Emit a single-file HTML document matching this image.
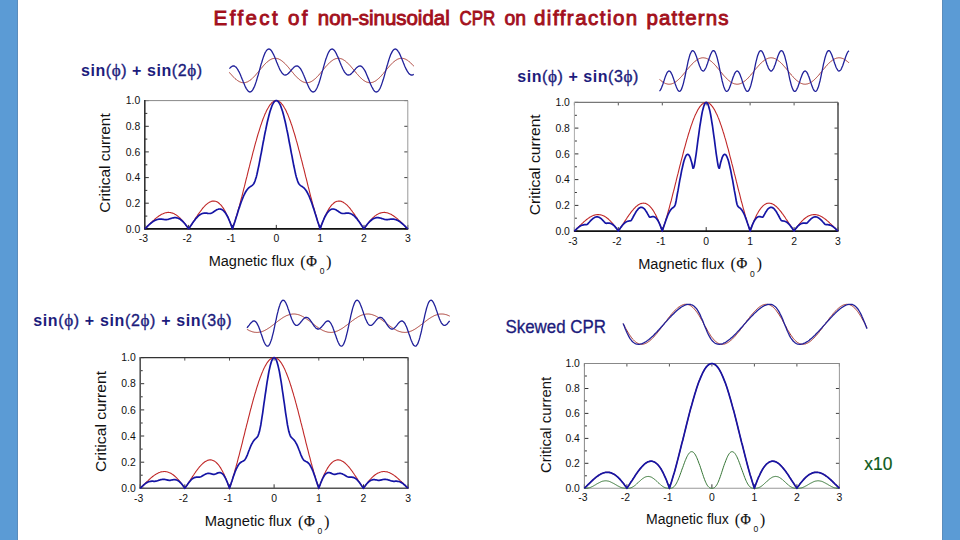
<!DOCTYPE html>
<html><head><meta charset="utf-8">
<style>
html,body{margin:0;padding:0;background:#fff;}
body{width:960px;height:540px;position:relative;overflow:hidden;}
svg{position:absolute;left:0;top:0;}
.tk{font-family:"Liberation Sans",sans-serif;font-size:10.4px;fill:#111;}
.al{font-family:"Liberation Sans",sans-serif;font-size:14.5px;fill:#111;}
.xl{font-family:"Liberation Sans",sans-serif;font-size:15.5px;fill:#111;}
.sy{font-family:"Liberation Serif",serif;font-size:16.5px;fill:#111;}
.sub{font-family:"Liberation Sans",sans-serif;font-size:8.5px;fill:#111;}
.lab{font-family:"Liberation Sans",sans-serif;font-weight:bold;font-size:16px;fill:#1c1c7c;}
.ph{font-weight:normal;stroke:#1c1c7c;stroke-width:0.35px;}
.pp{font-family:"Liberation Serif",serif;font-weight:normal;font-size:17px;stroke:#1c1c7c;stroke-width:0.4px;}
.phi{stroke:#111;stroke-width:0.25px;font-size:15.5px;}
.title{font-family:"Liberation Sans",sans-serif;font-weight:normal;font-size:20.5px;fill:#a3101c;stroke:#a3101c;stroke-width:0.9px;}
</style></head><body>
<svg width="960" height="540" viewBox="0 0 960 540">
<rect x="0" y="0" width="18" height="540" fill="#5b9bd5"/><rect x="17" y="0" width="1" height="540" fill="#5a8cbc"/>
<rect x="942" y="0" width="18" height="540" fill="#5b9bd5"/><rect x="942" y="0" width="1" height="540" fill="#5a8cbc"/>
<text x="213.6" y="24.5" class="title" textLength="64.1" lengthAdjust="spacing">Effect</text>
<text x="288.0" y="24.5" class="title" textLength="19.5" lengthAdjust="spacing">of</text>
<text x="317.8" y="24.5" class="title" textLength="131.9" lengthAdjust="spacingAndGlyphs">non-sinusoidal</text>
<text x="459.5" y="24.5" class="title" textLength="35.7" lengthAdjust="spacingAndGlyphs">CPR</text>
<text x="504.5" y="24.5" class="title" textLength="21.5" lengthAdjust="spacingAndGlyphs">on</text>
<text x="534.0" y="24.5" class="title" textLength="103.2" lengthAdjust="spacing">diffraction</text>
<text x="646.5" y="24.5" class="title" textLength="82.1" lengthAdjust="spacing">patterns</text>
<text x="81.0" y="76.1" class="lab" textLength="121.0" lengthAdjust="spacing">sin<tspan class="ph">(</tspan><tspan class="pp">ϕ</tspan><tspan class="ph">)</tspan> + sin<tspan class="ph">(2</tspan><tspan class="pp">ϕ</tspan><tspan class="ph">)</tspan></text>
<text x="517.3" y="81.6" class="lab" textLength="121.0" lengthAdjust="spacing">sin<tspan class="ph">(</tspan><tspan class="pp">ϕ</tspan><tspan class="ph">)</tspan> + sin<tspan class="ph">(3</tspan><tspan class="pp">ϕ</tspan><tspan class="ph">)</tspan></text>
<text x="33.2" y="326.4" class="lab" textLength="198.5" lengthAdjust="spacing">sin<tspan class="ph">(</tspan><tspan class="pp">ϕ</tspan><tspan class="ph">)</tspan> + sin<tspan class="ph">(2</tspan><tspan class="pp">ϕ</tspan><tspan class="ph">)</tspan> + sin<tspan class="ph">(3</tspan><tspan class="pp">ϕ</tspan><tspan class="ph">)</tspan></text>
<text x="505.5" y="333.3" style="font-family:'Liberation Sans',sans-serif;font-size:17.5px;fill:#1c1c7c;stroke:#1c1c7c;stroke-width:0.3px" textLength="100.5" lengthAdjust="spacingAndGlyphs">Skewed CPR</text>
<text x="864.3" y="469.6" style="font-family:'Liberation Sans',sans-serif;font-size:18.5px;fill:#0d5a1a;stroke:#0d5a1a;stroke-width:0.2px" textLength="28" lengthAdjust="spacingAndGlyphs">x10</text>
<line x1="144.8" y1="228.9" x2="148.8" y2="228.9" stroke="#333" stroke-width="1"/>
<line x1="407.8" y1="228.9" x2="404.3" y2="228.9" stroke="#444" stroke-width="1"/>
<line x1="144.8" y1="216.1" x2="147.3" y2="216.1" stroke="#333" stroke-width="1"/>
<line x1="144.8" y1="203.2" x2="148.8" y2="203.2" stroke="#333" stroke-width="1"/>
<line x1="407.8" y1="203.2" x2="404.3" y2="203.2" stroke="#444" stroke-width="1"/>
<line x1="144.8" y1="190.4" x2="147.3" y2="190.4" stroke="#333" stroke-width="1"/>
<line x1="144.8" y1="177.6" x2="148.8" y2="177.6" stroke="#333" stroke-width="1"/>
<line x1="407.8" y1="177.6" x2="404.3" y2="177.6" stroke="#444" stroke-width="1"/>
<line x1="144.8" y1="164.8" x2="147.3" y2="164.8" stroke="#333" stroke-width="1"/>
<line x1="144.8" y1="151.9" x2="148.8" y2="151.9" stroke="#333" stroke-width="1"/>
<line x1="407.8" y1="151.9" x2="404.3" y2="151.9" stroke="#444" stroke-width="1"/>
<line x1="144.8" y1="139.1" x2="147.3" y2="139.1" stroke="#333" stroke-width="1"/>
<line x1="144.8" y1="126.3" x2="148.8" y2="126.3" stroke="#333" stroke-width="1"/>
<line x1="407.8" y1="126.3" x2="404.3" y2="126.3" stroke="#444" stroke-width="1"/>
<line x1="144.8" y1="113.4" x2="147.3" y2="113.4" stroke="#333" stroke-width="1"/>
<line x1="144.8" y1="100.6" x2="148.8" y2="100.6" stroke="#333" stroke-width="1"/>
<line x1="407.8" y1="100.6" x2="404.3" y2="100.6" stroke="#444" stroke-width="1"/>
<line x1="144.8" y1="228.9" x2="144.8" y2="224.9" stroke="#333" stroke-width="1"/>
<line x1="188.6" y1="228.9" x2="188.6" y2="224.9" stroke="#333" stroke-width="1"/>
<line x1="232.5" y1="228.9" x2="232.5" y2="224.9" stroke="#333" stroke-width="1"/>
<line x1="276.3" y1="228.9" x2="276.3" y2="224.9" stroke="#333" stroke-width="1"/>
<line x1="320.1" y1="228.9" x2="320.1" y2="224.9" stroke="#333" stroke-width="1"/>
<line x1="364.0" y1="228.9" x2="364.0" y2="224.9" stroke="#333" stroke-width="1"/>
<line x1="407.8" y1="228.9" x2="407.8" y2="224.9" stroke="#333" stroke-width="1"/>
<line x1="144.8" y1="100.6" x2="407.8" y2="100.6" stroke="#888" stroke-width="1"/>
<line x1="407.8" y1="100.6" x2="407.8" y2="228.9" stroke="#999" stroke-width="1"/>
<line x1="144.8" y1="100.1" x2="144.8" y2="229.4" stroke="#333" stroke-width="1.6"/>
<line x1="144.3" y1="228.9" x2="408.3" y2="228.9" stroke="#111" stroke-width="1.6"/>
<text x="140.3" y="232.5" text-anchor="end" class="tk">0.0</text>
<text x="140.3" y="206.8" text-anchor="end" class="tk">0.2</text>
<text x="140.3" y="181.2" text-anchor="end" class="tk">0.4</text>
<text x="140.3" y="155.5" text-anchor="end" class="tk">0.6</text>
<text x="140.3" y="129.9" text-anchor="end" class="tk">0.8</text>
<text x="140.3" y="104.2" text-anchor="end" class="tk">1.0</text>
<text x="143.3" y="241.9" text-anchor="middle" class="tk">-3</text>
<text x="187.1" y="241.9" text-anchor="middle" class="tk">-2</text>
<text x="231.0" y="241.9" text-anchor="middle" class="tk">-1</text>
<text x="276.3" y="241.9" text-anchor="middle" class="tk">0</text>
<text x="320.1" y="241.9" text-anchor="middle" class="tk">1</text>
<text x="364.0" y="241.9" text-anchor="middle" class="tk">2</text>
<text x="407.8" y="241.9" text-anchor="middle" class="tk">3</text>
<path d="M144.8 228.9L145.4 228.3L146.1 227.7L146.7 227.0L147.3 226.4L147.9 225.8L148.6 225.2L149.2 224.5L149.8 223.9L150.4 223.3L151.1 222.7L151.7 222.1L152.3 221.5L152.9 220.9L153.6 220.3L154.2 219.8L154.8 219.2L155.4 218.7L156.1 218.1L156.7 217.6L157.3 217.1L157.9 216.7L158.6 216.2L159.2 215.8L159.8 215.4L160.5 215.0L161.1 214.6L161.7 214.3L162.3 214.0L163.0 213.7L163.6 213.4L164.2 213.2L164.8 213.0L165.5 212.8L166.1 212.7L166.7 212.6L167.3 212.5L168.0 212.4L168.6 212.4L169.2 212.5L169.8 212.5L170.5 212.6L171.1 212.7L171.7 212.9L172.4 213.1L173.0 213.3L173.6 213.6L174.2 213.8L174.9 214.2L175.5 214.5L176.1 214.9L176.7 215.4L177.4 215.8L178.0 216.3L178.6 216.8L179.2 217.4L179.9 218.0L180.5 218.6L181.1 219.3L181.7 219.9L182.4 220.6L183.0 221.4L183.6 222.1L184.2 222.9L184.9 223.7L185.5 224.5L186.1 225.4L186.8 226.2L187.4 227.1L188.0 228.0L188.6 228.9L189.3 228.0L189.9 227.0L190.5 226.1L191.1 225.1L191.8 224.2L192.4 223.2L193.0 222.3L193.6 221.3L194.3 220.3L194.9 219.4L195.5 218.4L196.1 217.4L196.8 216.5L197.4 215.6L198.0 214.6L198.7 213.7L199.3 212.8L199.9 212.0L200.5 211.1L201.2 210.3L201.8 209.5L202.4 208.7L203.0 207.9L203.7 207.2L204.3 206.5L204.9 205.8L205.5 205.2L206.2 204.6L206.8 204.1L207.4 203.6L208.0 203.1L208.7 202.7L209.3 202.3L209.9 202.0L210.6 201.7L211.2 201.4L211.8 201.3L212.4 201.1L213.1 201.1L213.7 201.0L214.3 201.1L214.9 201.2L215.6 201.3L216.2 201.5L216.8 201.8L217.4 202.1L218.1 202.5L218.7 203.0L219.3 203.5L219.9 204.1L220.6 204.7L221.2 205.4L221.8 206.2L222.4 207.0L223.1 207.9L223.7 208.9L224.3 209.9L225.0 211.0L225.6 212.2L226.2 213.4L226.8 214.7L227.5 216.0L228.1 217.4L228.7 218.9L229.3 220.4L230.0 222.0L230.6 223.6L231.2 225.3L231.8 227.1L232.5 228.9L233.1 227.0L233.7 225.1L234.3 223.2L235.0 221.2L235.6 219.1L236.2 217.0L236.9 214.9L237.5 212.7L238.1 210.5L238.7 208.2L239.4 205.9L240.0 203.6L240.6 201.3L241.2 198.9L241.9 196.5L242.5 194.1L243.1 191.6L243.7 189.2L244.4 186.7L245.0 184.2L245.6 181.7L246.2 179.2L246.9 176.7L247.5 174.2L248.1 171.7L248.7 169.2L249.4 166.7L250.0 164.2L250.6 161.7L251.3 159.2L251.9 156.8L252.5 154.4L253.1 151.9L253.8 149.6L254.4 147.2L255.0 144.9L255.6 142.6L256.3 140.4L256.9 138.2L257.5 136.0L258.1 133.9L258.8 131.8L259.4 129.8L260.0 127.8L260.6 125.9L261.3 124.0L261.9 122.2L262.5 120.5L263.1 118.8L263.8 117.1L264.4 115.6L265.0 114.1L265.7 112.7L266.3 111.3L266.9 110.1L267.5 108.9L268.2 107.8L268.8 106.7L269.4 105.7L270.0 104.9L270.7 104.1L271.3 103.3L271.9 102.7L272.5 102.1L273.2 101.7L273.8 101.3L274.4 101.0L275.0 100.8L275.7 100.6L276.3 100.6L276.9 100.6L277.6 100.8L278.2 101.0L278.8 101.3L279.4 101.7L280.1 102.1L280.7 102.7L281.3 103.3L281.9 104.1L282.6 104.9L283.2 105.7L283.8 106.7L284.4 107.8L285.1 108.9L285.7 110.1L286.3 111.3L286.9 112.7L287.6 114.1L288.2 115.6L288.8 117.1L289.4 118.8L290.1 120.5L290.7 122.2L291.3 124.0L292.0 125.9L292.6 127.8L293.2 129.8L293.8 131.8L294.5 133.9L295.1 136.0L295.7 138.2L296.3 140.4L297.0 142.6L297.6 144.9L298.2 147.2L298.8 149.6L299.5 151.9L300.1 154.4L300.7 156.8L301.3 159.2L302.0 161.7L302.6 164.2L303.2 166.7L303.9 169.2L304.5 171.7L305.1 174.2L305.7 176.7L306.4 179.2L307.0 181.7L307.6 184.2L308.2 186.7L308.9 189.2L309.5 191.6L310.1 194.1L310.7 196.5L311.4 198.9L312.0 201.3L312.6 203.6L313.2 205.9L313.9 208.2L314.5 210.5L315.1 212.7L315.8 214.9L316.4 217.0L317.0 219.1L317.6 221.2L318.3 223.2L318.9 225.1L319.5 227.0L320.1 228.9L320.8 227.1L321.4 225.3L322.0 223.6L322.6 222.0L323.3 220.4L323.9 218.9L324.5 217.4L325.1 216.0L325.8 214.7L326.4 213.4L327.0 212.2L327.6 211.0L328.3 209.9L328.9 208.9L329.5 207.9L330.2 207.0L330.8 206.2L331.4 205.4L332.0 204.7L332.7 204.1L333.3 203.5L333.9 203.0L334.5 202.5L335.2 202.1L335.8 201.8L336.4 201.5L337.0 201.3L337.7 201.2L338.3 201.1L338.9 201.0L339.5 201.1L340.2 201.1L340.8 201.3L341.4 201.4L342.1 201.7L342.7 202.0L343.3 202.3L343.9 202.7L344.6 203.1L345.2 203.6L345.8 204.1L346.4 204.6L347.1 205.2L347.7 205.8L348.3 206.5L348.9 207.2L349.6 207.9L350.2 208.7L350.8 209.5L351.4 210.3L352.1 211.1L352.7 212.0L353.3 212.8L353.9 213.7L354.6 214.6L355.2 215.6L355.8 216.5L356.5 217.4L357.1 218.4L357.7 219.4L358.3 220.3L359.0 221.3L359.6 222.3L360.2 223.2L360.8 224.2L361.5 225.1L362.1 226.1L362.7 227.0L363.3 228.0L364.0 228.9L364.6 228.0L365.2 227.1L365.8 226.2L366.5 225.4L367.1 224.5L367.7 223.7L368.4 222.9L369.0 222.1L369.6 221.4L370.2 220.6L370.9 219.9L371.5 219.3L372.1 218.6L372.7 218.0L373.4 217.4L374.0 216.8L374.6 216.3L375.2 215.8L375.9 215.4L376.5 214.9L377.1 214.5L377.7 214.2L378.4 213.8L379.0 213.6L379.6 213.3L380.2 213.1L380.9 212.9L381.5 212.7L382.1 212.6L382.8 212.5L383.4 212.5L384.0 212.4L384.6 212.4L385.3 212.5L385.9 212.6L386.5 212.7L387.1 212.8L387.8 213.0L388.4 213.2L389.0 213.4L389.6 213.7L390.3 214.0L390.9 214.3L391.5 214.6L392.1 215.0L392.8 215.4L393.4 215.8L394.0 216.2L394.7 216.7L395.3 217.1L395.9 217.6L396.5 218.1L397.2 218.7L397.8 219.2L398.4 219.8L399.0 220.3L399.7 220.9L400.3 221.5L400.9 222.1L401.5 222.7L402.2 223.3L402.8 223.9L403.4 224.5L404.0 225.2L404.7 225.8L405.3 226.4L405.9 227.0L406.5 227.7L407.2 228.3L407.8 228.9" fill="none" stroke="#c02828" stroke-width="1.1"/>
<path d="M144.8 228.9L145.4 228.3L146.1 227.7L146.7 227.1L147.3 226.4L147.9 225.8L148.6 225.2L149.2 224.7L149.8 224.1L150.4 223.6L151.1 223.0L151.7 222.5L152.3 222.1L152.9 221.6L153.6 221.2L154.2 220.8L154.8 220.5L155.4 220.2L156.1 219.9L156.7 219.7L157.3 219.5L157.9 219.3L158.6 219.2L159.2 219.1L159.8 219.1L160.5 219.1L161.1 219.1L161.7 219.1L162.3 219.2L163.0 219.3L163.6 219.4L164.2 219.5L164.8 219.6L165.5 219.6L166.1 219.6L166.7 219.6L167.3 219.5L168.0 219.4L168.6 219.2L169.2 219.0L169.8 218.8L170.5 218.6L171.1 218.4L171.7 218.2L172.4 218.0L173.0 217.9L173.6 217.8L174.2 217.7L174.9 217.7L175.5 217.7L176.1 217.7L176.7 217.8L177.4 218.0L178.0 218.2L178.6 218.4L179.2 218.7L179.9 219.1L180.5 219.5L181.1 220.0L181.7 220.5L182.4 221.1L183.0 221.7L183.6 222.3L184.2 223.0L184.9 223.8L185.5 224.6L186.1 225.4L186.8 226.2L187.4 227.1L188.0 228.0L188.6 228.9L189.3 228.0L189.9 227.0L190.5 226.1L191.1 225.2L191.8 224.3L192.4 223.3L193.0 222.4L193.6 221.6L194.3 220.7L194.9 219.9L195.5 219.1L196.1 218.3L196.8 217.6L197.4 216.9L198.0 216.3L198.7 215.7L199.3 215.2L199.9 214.8L200.5 214.3L201.2 214.0L201.8 213.7L202.4 213.5L203.0 213.3L203.7 213.2L204.3 213.1L204.9 213.1L205.5 213.1L206.2 213.1L206.8 213.2L207.4 213.3L208.0 213.4L208.7 213.5L209.3 213.5L209.9 213.5L210.6 213.4L211.2 213.2L211.8 213.0L212.4 212.6L213.1 212.2L213.7 211.8L214.3 211.3L214.9 210.9L215.6 210.5L216.2 210.1L216.8 209.8L217.4 209.5L218.1 209.3L218.7 209.1L219.3 209.0L219.9 209.0L220.6 209.1L221.2 209.3L221.8 209.6L222.4 209.9L223.1 210.4L223.7 211.0L224.3 211.6L225.0 212.4L225.6 213.3L226.2 214.2L226.8 215.3L227.5 216.5L228.1 217.7L228.7 219.1L229.3 220.5L230.0 222.1L230.6 223.7L231.2 225.3L231.8 227.1L232.5 228.9L233.1 227.0L233.7 225.1L234.3 223.2L235.0 221.2L235.6 219.2L236.2 217.2L236.9 215.2L237.5 213.3L238.1 211.3L238.7 209.3L239.4 207.4L240.0 205.5L240.6 203.7L241.2 202.0L241.9 200.3L242.5 198.7L243.1 197.2L243.7 195.7L244.4 194.4L245.0 193.1L245.6 192.0L246.2 191.0L246.9 190.0L247.5 189.2L248.1 188.5L248.7 187.9L249.4 187.3L250.0 186.9L250.6 186.4L251.3 186.0L251.9 185.6L252.5 185.1L253.1 184.5L253.8 183.7L254.4 182.5L255.0 181.0L255.6 179.1L256.3 176.9L256.9 174.5L257.5 171.8L258.1 168.9L258.8 165.8L259.4 162.7L260.0 159.5L260.6 156.2L261.3 152.8L261.9 149.5L262.5 146.1L263.1 142.8L263.8 139.5L264.4 136.2L265.0 133.0L265.7 129.9L266.3 126.9L266.9 124.0L267.5 121.2L268.2 118.5L268.8 116.0L269.4 113.7L270.0 111.5L270.7 109.5L271.3 107.7L271.9 106.0L272.5 104.6L273.2 103.4L273.8 102.4L274.4 101.6L275.0 101.1L275.7 100.7L276.3 100.6L276.9 100.7L277.6 101.1L278.2 101.6L278.8 102.4L279.4 103.4L280.1 104.6L280.7 106.0L281.3 107.7L281.9 109.5L282.6 111.5L283.2 113.7L283.8 116.0L284.4 118.5L285.1 121.2L285.7 124.0L286.3 126.9L286.9 129.9L287.6 133.0L288.2 136.2L288.8 139.5L289.4 142.8L290.1 146.1L290.7 149.5L291.3 152.8L292.0 156.2L292.6 159.5L293.2 162.7L293.8 165.8L294.5 168.9L295.1 171.8L295.7 174.5L296.3 176.9L297.0 179.1L297.6 181.0L298.2 182.5L298.8 183.7L299.5 184.5L300.1 185.1L300.7 185.6L301.3 186.0L302.0 186.4L302.6 186.9L303.2 187.3L303.9 187.9L304.5 188.5L305.1 189.2L305.7 190.0L306.4 191.0L307.0 192.0L307.6 193.1L308.2 194.4L308.9 195.7L309.5 197.2L310.1 198.7L310.7 200.3L311.4 202.0L312.0 203.7L312.6 205.5L313.2 207.4L313.9 209.3L314.5 211.3L315.1 213.3L315.8 215.2L316.4 217.2L317.0 219.2L317.6 221.2L318.3 223.2L318.9 225.1L319.5 227.0L320.1 228.9L320.8 227.1L321.4 225.3L322.0 223.7L322.6 222.1L323.3 220.5L323.9 219.1L324.5 217.7L325.1 216.5L325.8 215.3L326.4 214.2L327.0 213.3L327.6 212.4L328.3 211.6L328.9 211.0L329.5 210.4L330.2 209.9L330.8 209.6L331.4 209.3L332.0 209.1L332.7 209.0L333.3 209.0L333.9 209.1L334.5 209.3L335.2 209.5L335.8 209.8L336.4 210.1L337.0 210.5L337.7 210.9L338.3 211.3L338.9 211.8L339.5 212.2L340.2 212.6L340.8 213.0L341.4 213.2L342.1 213.4L342.7 213.5L343.3 213.5L343.9 213.5L344.6 213.4L345.2 213.3L345.8 213.2L346.4 213.1L347.1 213.1L347.7 213.1L348.3 213.1L348.9 213.2L349.6 213.3L350.2 213.5L350.8 213.7L351.4 214.0L352.1 214.3L352.7 214.8L353.3 215.2L353.9 215.7L354.6 216.3L355.2 216.9L355.8 217.6L356.5 218.3L357.1 219.1L357.7 219.9L358.3 220.7L359.0 221.6L359.6 222.4L360.2 223.3L360.8 224.3L361.5 225.2L362.1 226.1L362.7 227.0L363.3 228.0L364.0 228.9L364.6 228.0L365.2 227.1L365.8 226.2L366.5 225.4L367.1 224.6L367.7 223.8L368.4 223.0L369.0 222.3L369.6 221.7L370.2 221.1L370.9 220.5L371.5 220.0L372.1 219.5L372.7 219.1L373.4 218.7L374.0 218.4L374.6 218.2L375.2 218.0L375.9 217.8L376.5 217.7L377.1 217.7L377.7 217.7L378.4 217.7L379.0 217.8L379.6 217.9L380.2 218.0L380.9 218.2L381.5 218.4L382.1 218.6L382.8 218.8L383.4 219.0L384.0 219.2L384.6 219.4L385.3 219.5L385.9 219.6L386.5 219.6L387.1 219.6L387.8 219.6L388.4 219.5L389.0 219.4L389.6 219.3L390.3 219.2L390.9 219.1L391.5 219.1L392.1 219.1L392.8 219.1L393.4 219.1L394.0 219.2L394.7 219.3L395.3 219.5L395.9 219.7L396.5 219.9L397.2 220.2L397.8 220.5L398.4 220.8L399.0 221.2L399.7 221.6L400.3 222.1L400.9 222.5L401.5 223.0L402.2 223.6L402.8 224.1L403.4 224.7L404.0 225.2L404.7 225.8L405.3 226.4L405.9 227.1L406.5 227.7L407.2 228.3L407.8 228.9" fill="none" stroke="#1515a5" stroke-width="1.7" stroke-linejoin="round"/>
<path d="M229.4 72.4L229.9 73.0L230.4 73.7L230.9 74.2L231.5 74.8L232.0 75.4L232.5 76.0L233.0 76.5L233.5 77.1L234.0 77.6L234.5 78.1L235.0 78.6L235.6 79.0L236.1 79.4L236.6 79.9L237.1 80.2L237.6 80.6L238.1 80.9L238.6 81.2L239.2 81.5L239.7 81.8L240.2 82.0L240.7 82.2L241.2 82.4L241.7 82.5L242.2 82.6L242.8 82.7L243.3 82.7L243.8 82.7L244.3 82.7L244.8 82.6L245.3 82.5L245.8 82.4L246.3 82.2L246.9 82.1L247.4 81.9L247.9 81.6L248.4 81.3L248.9 81.0L249.4 80.7L249.9 80.4L250.5 80.0L251.0 79.6L251.5 79.1L252.0 78.7L252.5 78.2L253.0 77.7L253.5 77.2L254.0 76.7L254.6 76.1L255.1 75.6L255.6 75.0L256.1 74.4L256.6 73.8L257.1 73.2L257.6 72.6L258.2 72.0L258.7 71.4L259.2 70.8L259.7 70.1L260.2 69.5L260.7 68.9L261.2 68.3L261.8 67.7L262.3 67.1L262.8 66.5L263.3 65.9L263.8 65.3L264.3 64.8L264.8 64.2L265.3 63.7L265.9 63.2L266.4 62.7L266.9 62.2L267.4 61.8L267.9 61.4L268.4 61.0L268.9 60.6L269.5 60.2L270.0 59.9L270.5 59.6L271.0 59.4L271.5 59.1L272.0 58.9L272.5 58.7L273.0 58.6L273.6 58.5L274.1 58.4L274.6 58.3L275.1 58.3L275.6 58.3L276.1 58.4L276.6 58.4L277.2 58.5L277.7 58.7L278.2 58.8L278.7 59.0L279.2 59.3L279.7 59.5L280.2 59.8L280.8 60.1L281.3 60.5L281.8 60.8L282.3 61.2L282.8 61.6L283.3 62.1L283.8 62.5L284.3 63.0L284.9 63.5L285.4 64.0L285.9 64.6L286.4 65.1L286.9 65.7L287.4 66.3L287.9 66.8L288.5 67.4L289.0 68.1L289.5 68.7L290.0 69.3L290.5 69.9L291.0 70.5L291.5 71.1L292.0 71.8L292.6 72.4L293.1 73.0L293.6 73.6L294.1 74.2L294.6 74.8L295.1 75.4L295.6 75.9L296.2 76.5L296.7 77.0L297.2 77.5L297.7 78.0L298.2 78.5L298.7 79.0L299.2 79.4L299.8 79.8L300.3 80.2L300.8 80.6L301.3 80.9L301.8 81.2L302.3 81.5L302.8 81.8L303.3 82.0L303.9 82.2L304.4 82.3L304.9 82.5L305.4 82.6L305.9 82.7L306.4 82.7L306.9 82.7L307.5 82.7L308.0 82.6L308.5 82.5L309.0 82.4L309.5 82.3L310.0 82.1L310.5 81.9L311.0 81.6L311.6 81.4L312.1 81.1L312.6 80.7L313.1 80.4L313.6 80.0L314.1 79.6L314.6 79.2L315.2 78.7L315.7 78.3L316.2 77.8L316.7 77.3L317.2 76.7L317.7 76.2L318.2 75.6L318.8 75.1L319.3 74.5L319.8 73.9L320.3 73.3L320.8 72.7L321.3 72.1L321.8 71.4L322.3 70.8L322.9 70.2L323.4 69.6L323.9 68.9L324.4 68.3L324.9 67.7L325.4 67.1L325.9 66.5L326.5 65.9L327.0 65.4L327.5 64.8L328.0 64.3L328.5 63.7L329.0 63.2L329.5 62.7L330.0 62.3L330.6 61.8L331.1 61.4L331.6 61.0L332.1 60.6L332.6 60.3L333.1 59.9L333.6 59.6L334.2 59.4L334.7 59.1L335.2 58.9L335.7 58.7L336.2 58.6L336.7 58.5L337.2 58.4L337.8 58.3L338.3 58.3L338.8 58.3L339.3 58.3L339.8 58.4L340.3 58.5L340.8 58.7L341.3 58.8L341.9 59.0L342.4 59.2L342.9 59.5L343.4 59.8L343.9 60.1L344.4 60.4L344.9 60.8L345.5 61.2L346.0 61.6L346.5 62.0L347.0 62.5L347.5 63.0L348.0 63.5L348.5 64.0L349.0 64.5L349.6 65.1L350.1 65.6L350.6 66.2L351.1 66.8L351.6 67.4L352.1 68.0L352.6 68.6L353.2 69.2L353.7 69.9L354.2 70.5L354.7 71.1L355.2 71.7L355.7 72.3L356.2 73.0L356.8 73.6L357.3 74.2L357.8 74.7L358.3 75.3L358.8 75.9L359.3 76.4L359.8 77.0L360.3 77.5L360.9 78.0L361.4 78.5L361.9 78.9L362.4 79.4L362.9 79.8L363.4 80.2L363.9 80.6L364.5 80.9L365.0 81.2L365.5 81.5L366.0 81.7L366.5 82.0L367.0 82.2L367.5 82.3L368.0 82.5L368.6 82.6L369.1 82.6L369.6 82.7L370.1 82.7L370.6 82.7L371.1 82.6L371.6 82.5L372.2 82.4L372.7 82.3L373.2 82.1L373.7 81.9L374.2 81.6L374.7 81.4L375.2 81.1L375.8 80.8L376.3 80.4L376.8 80.0L377.3 79.6L377.8 79.2L378.3 78.8L378.8 78.3L379.3 77.8L379.9 77.3L380.4 76.8L380.9 76.2L381.4 75.7L381.9 75.1L382.4 74.5L382.9 73.9L383.5 73.3L384.0 72.7L384.5 72.1L385.0 71.5L385.5 70.9L386.0 70.2L386.5 69.6L387.0 69.0L387.6 68.4L388.1 67.8L388.6 67.2L389.1 66.6L389.6 66.0L390.1 65.4L390.6 64.9L391.2 64.3L391.7 63.8L392.2 63.3L392.7 62.8L393.2 62.3L393.7 61.9L394.2 61.4L394.8 61.0L395.3 60.6L395.8 60.3L396.3 60.0L396.8 59.7L397.3 59.4L397.8 59.1L398.3 58.9L398.9 58.8L399.4 58.6L399.9 58.5L400.4 58.4L400.9 58.3L401.4 58.3L401.9 58.3L402.5 58.3L403.0 58.4L403.5 58.5L404.0 58.6L404.5 58.8L405.0 59.0L405.5 59.2L406.0 59.5L406.6 59.8L407.1 60.1L407.6 60.4L408.1 60.8L408.6 61.1L409.1 61.6L409.6 62.0L410.2 62.5L410.7 62.9L411.2 63.4L411.7 63.9L412.2 64.5L412.7 65.0L413.2 65.6L413.8 66.2" fill="none" stroke="#a83830" stroke-width="1"/>
<path d="M229.4 68.6L229.9 68.1L230.4 67.6L230.9 67.1L231.5 66.7L232.0 66.4L232.5 66.2L233.0 66.0L233.5 66.0L234.0 66.0L234.5 66.2L235.0 66.5L235.6 66.8L236.1 67.3L236.6 67.8L237.1 68.5L237.6 69.3L238.1 70.1L238.6 71.1L239.2 72.1L239.7 73.2L240.2 74.3L240.7 75.5L241.2 76.8L241.7 78.0L242.2 79.3L242.8 80.6L243.3 81.9L243.8 83.1L244.3 84.3L244.8 85.5L245.3 86.6L245.8 87.6L246.3 88.6L246.9 89.4L247.4 90.2L247.9 90.8L248.4 91.3L248.9 91.7L249.4 91.9L249.9 92.0L250.5 91.9L251.0 91.7L251.5 91.3L252.0 90.8L252.5 90.2L253.0 89.4L253.5 88.4L254.0 87.4L254.6 86.2L255.1 84.8L255.6 83.4L256.1 81.9L256.6 80.2L257.1 78.6L257.6 76.8L258.2 75.0L258.7 73.1L259.2 71.3L259.7 69.4L260.2 67.6L260.7 65.7L261.2 63.9L261.8 62.2L262.3 60.5L262.8 58.9L263.3 57.4L263.8 56.0L264.3 54.7L264.8 53.5L265.3 52.4L265.9 51.5L266.4 50.7L266.9 50.1L267.4 49.6L267.9 49.3L268.4 49.1L268.9 49.0L269.5 49.1L270.0 49.4L270.5 49.8L271.0 50.3L271.5 50.9L272.0 51.7L272.5 52.6L273.0 53.5L273.6 54.6L274.1 55.7L274.6 56.8L275.1 58.1L275.6 59.3L276.1 60.6L276.6 61.9L277.2 63.2L277.7 64.4L278.2 65.7L278.7 66.8L279.2 68.0L279.7 69.1L280.2 70.1L280.8 71.0L281.3 71.8L281.8 72.6L282.3 73.3L282.8 73.8L283.3 74.3L283.8 74.6L284.3 74.8L284.9 75.0L285.4 75.0L285.9 74.9L286.4 74.8L286.9 74.5L287.4 74.2L287.9 73.8L288.5 73.4L289.0 72.8L289.5 72.3L290.0 71.7L290.5 71.1L291.0 70.5L291.5 69.9L292.0 69.2L292.6 68.7L293.1 68.1L293.6 67.6L294.1 67.1L294.6 66.8L295.1 66.4L295.6 66.2L296.2 66.1L296.7 66.0L297.2 66.0L297.7 66.2L298.2 66.4L298.7 66.8L299.2 67.2L299.8 67.8L300.3 68.5L300.8 69.2L301.3 70.1L301.8 71.0L302.3 72.0L302.8 73.1L303.3 74.3L303.9 75.4L304.4 76.7L304.9 77.9L305.4 79.2L305.9 80.5L306.4 81.8L306.9 83.0L307.5 84.3L308.0 85.4L308.5 86.5L309.0 87.6L309.5 88.5L310.0 89.4L310.5 90.1L311.0 90.8L311.6 91.3L312.1 91.6L312.6 91.9L313.1 92.0L313.6 91.9L314.1 91.7L314.6 91.4L315.2 90.9L315.7 90.2L316.2 89.4L316.7 88.5L317.2 87.4L317.7 86.2L318.2 84.9L318.8 83.5L319.3 82.0L319.8 80.4L320.3 78.7L320.8 76.9L321.3 75.1L321.8 73.3L322.3 71.4L322.9 69.6L323.4 67.7L323.9 65.9L324.4 64.1L324.9 62.3L325.4 60.6L325.9 59.0L326.5 57.5L327.0 56.1L327.5 54.7L328.0 53.6L328.5 52.5L329.0 51.6L329.5 50.8L330.0 50.1L330.6 49.6L331.1 49.3L331.6 49.1L332.1 49.0L332.6 49.1L333.1 49.4L333.6 49.7L334.2 50.3L334.7 50.9L335.2 51.6L335.7 52.5L336.2 53.4L336.7 54.5L337.2 55.6L337.8 56.8L338.3 58.0L338.8 59.2L339.3 60.5L339.8 61.8L340.3 63.1L340.8 64.3L341.3 65.6L341.9 66.8L342.4 67.9L342.9 69.0L343.4 70.0L343.9 70.9L344.4 71.8L344.9 72.5L345.5 73.2L346.0 73.8L346.5 74.2L347.0 74.6L347.5 74.8L348.0 75.0L348.5 75.0L349.0 74.9L349.6 74.8L350.1 74.6L350.6 74.2L351.1 73.9L351.6 73.4L352.1 72.9L352.6 72.3L353.2 71.8L353.7 71.1L354.2 70.5L354.7 69.9L355.2 69.3L355.7 68.7L356.2 68.1L356.8 67.6L357.3 67.2L357.8 66.8L358.3 66.5L358.8 66.2L359.3 66.1L359.8 66.0L360.3 66.0L360.9 66.2L361.4 66.4L361.9 66.8L362.4 67.2L362.9 67.8L363.4 68.4L363.9 69.2L364.5 70.0L365.0 70.9L365.5 71.9L366.0 73.0L366.5 74.2L367.0 75.4L367.5 76.6L368.0 77.9L368.6 79.1L369.1 80.4L369.6 81.7L370.1 82.9L370.6 84.2L371.1 85.3L371.6 86.5L372.2 87.5L372.7 88.4L373.2 89.3L373.7 90.1L374.2 90.7L374.7 91.2L375.2 91.6L375.8 91.9L376.3 92.0L376.8 91.9L377.3 91.7L377.8 91.4L378.3 90.9L378.8 90.3L379.3 89.5L379.9 88.6L380.4 87.5L380.9 86.3L381.4 85.0L381.9 83.6L382.4 82.1L382.9 80.5L383.5 78.8L384.0 77.1L384.5 75.3L385.0 73.4L385.5 71.6L386.0 69.7L386.5 67.8L387.0 66.0L387.6 64.2L388.1 62.4L388.6 60.7L389.1 59.1L389.6 57.6L390.1 56.2L390.6 54.8L391.2 53.6L391.7 52.6L392.2 51.6L392.7 50.8L393.2 50.2L393.7 49.7L394.2 49.3L394.8 49.1L395.3 49.0L395.8 49.1L396.3 49.3L396.8 49.7L397.3 50.2L397.8 50.8L398.3 51.6L398.9 52.4L399.4 53.4L399.9 54.4L400.4 55.5L400.9 56.7L401.4 57.9L401.9 59.1L402.5 60.4L403.0 61.7L403.5 63.0L404.0 64.2L404.5 65.5L405.0 66.7L405.5 67.8L406.0 68.9L406.6 69.9L407.1 70.9L407.6 71.7L408.1 72.5L408.6 73.2L409.1 73.7L409.6 74.2L410.2 74.5L410.7 74.8L411.2 75.0L411.7 75.0L412.2 75.0L412.7 74.8L413.2 74.6L413.8 74.3" fill="none" stroke="#20209a" stroke-width="1.3"/>
<text transform="translate(109.8,163.0) rotate(-90)" text-anchor="middle" class="al" textLength="99.5" lengthAdjust="spacingAndGlyphs">Critical current</text>
<text x="208.7" y="265.8" class="xl" textLength="85.5" lengthAdjust="spacingAndGlyphs">Magnetic flux</text><text x="300.3" y="266.6" class="sy">(</text><text x="306.3" y="265.6" class="sy phi" textLength="10.6" lengthAdjust="spacingAndGlyphs">Φ</text><text x="319.7" y="274.0" class="sub">0</text><text x="326.1" y="266.6" class="sy">)</text>
<line x1="574.4" y1="231.1" x2="578.4" y2="231.1" stroke="#333" stroke-width="1"/>
<line x1="838.0" y1="231.1" x2="834.5" y2="231.1" stroke="#444" stroke-width="1"/>
<line x1="574.4" y1="218.2" x2="576.9" y2="218.2" stroke="#333" stroke-width="1"/>
<line x1="574.4" y1="205.4" x2="578.4" y2="205.4" stroke="#333" stroke-width="1"/>
<line x1="838.0" y1="205.4" x2="834.5" y2="205.4" stroke="#444" stroke-width="1"/>
<line x1="574.4" y1="192.5" x2="576.9" y2="192.5" stroke="#333" stroke-width="1"/>
<line x1="574.4" y1="179.6" x2="578.4" y2="179.6" stroke="#333" stroke-width="1"/>
<line x1="838.0" y1="179.6" x2="834.5" y2="179.6" stroke="#444" stroke-width="1"/>
<line x1="574.4" y1="166.8" x2="576.9" y2="166.8" stroke="#333" stroke-width="1"/>
<line x1="574.4" y1="153.9" x2="578.4" y2="153.9" stroke="#333" stroke-width="1"/>
<line x1="838.0" y1="153.9" x2="834.5" y2="153.9" stroke="#444" stroke-width="1"/>
<line x1="574.4" y1="141.0" x2="576.9" y2="141.0" stroke="#333" stroke-width="1"/>
<line x1="574.4" y1="128.1" x2="578.4" y2="128.1" stroke="#333" stroke-width="1"/>
<line x1="838.0" y1="128.1" x2="834.5" y2="128.1" stroke="#444" stroke-width="1"/>
<line x1="574.4" y1="115.3" x2="576.9" y2="115.3" stroke="#333" stroke-width="1"/>
<line x1="574.4" y1="102.4" x2="578.4" y2="102.4" stroke="#333" stroke-width="1"/>
<line x1="838.0" y1="102.4" x2="834.5" y2="102.4" stroke="#444" stroke-width="1"/>
<line x1="574.4" y1="231.1" x2="574.4" y2="227.1" stroke="#333" stroke-width="1"/>
<line x1="574.4" y1="102.4" x2="574.4" y2="105.4" stroke="#555" stroke-width="1"/>
<line x1="618.3" y1="231.1" x2="618.3" y2="227.1" stroke="#333" stroke-width="1"/>
<line x1="618.3" y1="102.4" x2="618.3" y2="105.4" stroke="#555" stroke-width="1"/>
<line x1="662.3" y1="231.1" x2="662.3" y2="227.1" stroke="#333" stroke-width="1"/>
<line x1="662.3" y1="102.4" x2="662.3" y2="105.4" stroke="#555" stroke-width="1"/>
<line x1="706.2" y1="231.1" x2="706.2" y2="227.1" stroke="#333" stroke-width="1"/>
<line x1="706.2" y1="102.4" x2="706.2" y2="105.4" stroke="#555" stroke-width="1"/>
<line x1="750.1" y1="231.1" x2="750.1" y2="227.1" stroke="#333" stroke-width="1"/>
<line x1="750.1" y1="102.4" x2="750.1" y2="105.4" stroke="#555" stroke-width="1"/>
<line x1="794.1" y1="231.1" x2="794.1" y2="227.1" stroke="#333" stroke-width="1"/>
<line x1="794.1" y1="102.4" x2="794.1" y2="105.4" stroke="#555" stroke-width="1"/>
<line x1="838.0" y1="231.1" x2="838.0" y2="227.1" stroke="#333" stroke-width="1"/>
<line x1="838.0" y1="102.4" x2="838.0" y2="105.4" stroke="#555" stroke-width="1"/>
<line x1="574.4" y1="102.4" x2="838.0" y2="102.4" stroke="#777" stroke-width="1.1"/>
<line x1="838.0" y1="102.4" x2="838.0" y2="231.1" stroke="#555" stroke-width="1.6"/>
<line x1="574.4" y1="101.9" x2="574.4" y2="231.6" stroke="#aaa" stroke-width="1"/>
<line x1="573.9" y1="231.1" x2="838.5" y2="231.1" stroke="#111" stroke-width="1.6"/>
<text x="569.9" y="234.7" text-anchor="end" class="tk">0.0</text>
<text x="569.9" y="209.0" text-anchor="end" class="tk">0.2</text>
<text x="569.9" y="183.2" text-anchor="end" class="tk">0.4</text>
<text x="569.9" y="157.5" text-anchor="end" class="tk">0.6</text>
<text x="569.9" y="131.7" text-anchor="end" class="tk">0.8</text>
<text x="569.9" y="106.0" text-anchor="end" class="tk">1.0</text>
<text x="572.9" y="244.6" text-anchor="middle" class="tk">-3</text>
<text x="616.8" y="244.6" text-anchor="middle" class="tk">-2</text>
<text x="660.8" y="244.6" text-anchor="middle" class="tk">-1</text>
<text x="706.2" y="244.6" text-anchor="middle" class="tk">0</text>
<text x="750.1" y="244.6" text-anchor="middle" class="tk">1</text>
<text x="794.1" y="244.6" text-anchor="middle" class="tk">2</text>
<text x="838.0" y="244.6" text-anchor="middle" class="tk">3</text>
<path d="M574.4 231.1L575.0 230.5L575.7 229.9L576.3 229.2L576.9 228.6L577.5 228.0L578.2 227.4L578.8 226.7L579.4 226.1L580.0 225.5L580.7 224.9L581.3 224.3L581.9 223.7L582.6 223.1L583.2 222.5L583.8 221.9L584.4 221.4L585.1 220.8L585.7 220.3L586.3 219.8L587.0 219.3L587.6 218.8L588.2 218.4L588.8 217.9L589.5 217.5L590.1 217.1L590.7 216.8L591.3 216.4L592.0 216.1L592.6 215.8L593.2 215.6L593.9 215.3L594.5 215.1L595.1 215.0L595.7 214.8L596.4 214.7L597.0 214.6L597.6 214.6L598.2 214.6L598.9 214.6L599.5 214.7L600.1 214.7L600.8 214.9L601.4 215.0L602.0 215.2L602.6 215.4L603.3 215.7L603.9 216.0L604.5 216.3L605.2 216.7L605.8 217.1L606.4 217.5L607.0 218.0L607.7 218.5L608.3 219.0L608.9 219.6L609.5 220.2L610.2 220.8L610.8 221.4L611.4 222.1L612.1 222.8L612.7 223.5L613.3 224.3L613.9 225.1L614.6 225.9L615.2 226.7L615.8 227.5L616.5 228.4L617.1 229.3L617.7 230.2L618.3 231.1L619.0 230.2L619.6 229.2L620.2 228.3L620.8 227.3L621.5 226.4L622.1 225.4L622.7 224.4L623.4 223.5L624.0 222.5L624.6 221.5L625.2 220.6L625.9 219.6L626.5 218.7L627.1 217.7L627.7 216.8L628.4 215.9L629.0 215.0L629.6 214.1L630.3 213.3L630.9 212.4L631.5 211.6L632.1 210.8L632.8 210.1L633.4 209.3L634.0 208.6L634.7 208.0L635.3 207.3L635.9 206.7L636.5 206.2L637.2 205.7L637.8 205.2L638.4 204.8L639.0 204.4L639.7 204.1L640.3 203.8L640.9 203.6L641.6 203.4L642.2 203.2L642.8 203.2L643.4 203.1L644.1 203.2L644.7 203.3L645.3 203.4L645.9 203.6L646.6 203.9L647.2 204.2L647.8 204.6L648.5 205.1L649.1 205.6L649.7 206.2L650.3 206.8L651.0 207.5L651.6 208.3L652.2 209.2L652.9 210.1L653.5 211.0L654.1 212.1L654.7 213.2L655.4 214.3L656.0 215.5L656.6 216.8L657.2 218.2L657.9 219.6L658.5 221.1L659.1 222.6L659.8 224.2L660.4 225.8L661.0 227.5L661.6 229.3L662.3 231.1L662.9 229.2L663.5 227.3L664.1 225.4L664.8 223.3L665.4 221.3L666.0 219.2L666.7 217.0L667.3 214.8L667.9 212.6L668.5 210.4L669.2 208.1L669.8 205.7L670.4 203.4L671.1 201.0L671.7 198.6L672.3 196.2L672.9 193.7L673.6 191.2L674.2 188.8L674.8 186.3L675.4 183.8L676.1 181.2L676.7 178.7L677.3 176.2L678.0 173.7L678.6 171.2L679.2 168.7L679.8 166.2L680.5 163.7L681.1 161.2L681.7 158.8L682.4 156.3L683.0 153.9L683.6 151.5L684.2 149.2L684.9 146.8L685.5 144.6L686.1 142.3L686.7 140.1L687.4 137.9L688.0 135.8L688.6 133.7L689.3 131.7L689.9 129.7L690.5 127.8L691.1 125.9L691.8 124.1L692.4 122.3L693.0 120.6L693.6 119.0L694.3 117.4L694.9 115.9L695.5 114.5L696.2 113.2L696.8 111.9L697.4 110.7L698.0 109.6L698.7 108.5L699.3 107.6L699.9 106.7L700.6 105.9L701.2 105.1L701.8 104.5L702.4 103.9L703.1 103.5L703.7 103.1L704.3 102.8L704.9 102.6L705.6 102.4L706.2 102.4L706.8 102.4L707.5 102.6L708.1 102.8L708.7 103.1L709.3 103.5L710.0 103.9L710.6 104.5L711.2 105.1L711.8 105.9L712.5 106.7L713.1 107.6L713.7 108.5L714.4 109.6L715.0 110.7L715.6 111.9L716.2 113.2L716.9 114.5L717.5 115.9L718.1 117.4L718.8 119.0L719.4 120.6L720.0 122.3L720.6 124.1L721.3 125.9L721.9 127.8L722.5 129.7L723.1 131.7L723.8 133.7L724.4 135.8L725.0 137.9L725.7 140.1L726.3 142.3L726.9 144.6L727.5 146.8L728.2 149.2L728.8 151.5L729.4 153.9L730.0 156.3L730.7 158.8L731.3 161.2L731.9 163.7L732.6 166.2L733.2 168.7L733.8 171.2L734.4 173.7L735.1 176.2L735.7 178.7L736.3 181.2L737.0 183.8L737.6 186.3L738.2 188.8L738.8 191.2L739.5 193.7L740.1 196.2L740.7 198.6L741.3 201.0L742.0 203.4L742.6 205.7L743.2 208.1L743.9 210.4L744.5 212.6L745.1 214.8L745.7 217.0L746.4 219.2L747.0 221.3L747.6 223.3L748.3 225.4L748.9 227.3L749.5 229.2L750.1 231.1L750.8 229.3L751.4 227.5L752.0 225.8L752.6 224.2L753.3 222.6L753.9 221.1L754.5 219.6L755.2 218.2L755.8 216.8L756.4 215.5L757.0 214.3L757.7 213.2L758.3 212.1L758.9 211.0L759.5 210.1L760.2 209.2L760.8 208.3L761.4 207.5L762.1 206.8L762.7 206.2L763.3 205.6L763.9 205.1L764.6 204.6L765.2 204.2L765.8 203.9L766.5 203.6L767.1 203.4L767.7 203.3L768.3 203.2L769.0 203.1L769.6 203.2L770.2 203.2L770.8 203.4L771.5 203.6L772.1 203.8L772.7 204.1L773.4 204.4L774.0 204.8L774.6 205.2L775.2 205.7L775.9 206.2L776.5 206.7L777.1 207.3L777.7 208.0L778.4 208.6L779.0 209.3L779.6 210.1L780.3 210.8L780.9 211.6L781.5 212.4L782.1 213.3L782.8 214.1L783.4 215.0L784.0 215.9L784.7 216.8L785.3 217.7L785.9 218.7L786.5 219.6L787.2 220.6L787.8 221.5L788.4 222.5L789.0 223.5L789.7 224.4L790.3 225.4L790.9 226.4L791.6 227.3L792.2 228.3L792.8 229.2L793.4 230.2L794.1 231.1L794.7 230.2L795.3 229.3L795.9 228.4L796.6 227.5L797.2 226.7L797.8 225.9L798.5 225.1L799.1 224.3L799.7 223.5L800.3 222.8L801.0 222.1L801.6 221.4L802.2 220.8L802.9 220.2L803.5 219.6L804.1 219.0L804.7 218.5L805.4 218.0L806.0 217.5L806.6 217.1L807.2 216.7L807.9 216.3L808.5 216.0L809.1 215.7L809.8 215.4L810.4 215.2L811.0 215.0L811.6 214.9L812.3 214.7L812.9 214.7L813.5 214.6L814.2 214.6L814.8 214.6L815.4 214.6L816.0 214.7L816.7 214.8L817.3 215.0L817.9 215.1L818.5 215.3L819.2 215.6L819.8 215.8L820.4 216.1L821.1 216.4L821.7 216.8L822.3 217.1L822.9 217.5L823.6 217.9L824.2 218.4L824.8 218.8L825.4 219.3L826.1 219.8L826.7 220.3L827.3 220.8L828.0 221.4L828.6 221.9L829.2 222.5L829.8 223.1L830.5 223.7L831.1 224.3L831.7 224.9L832.4 225.5L833.0 226.1L833.6 226.7L834.2 227.4L834.9 228.0L835.5 228.6L836.1 229.2L836.7 229.9L837.4 230.5L838.0 231.1" fill="none" stroke="#c02828" stroke-width="1.1"/>
<path d="M574.4 231.1L575.0 230.5L575.7 229.9L576.3 229.3L576.9 228.7L577.5 228.1L578.2 227.6L578.8 227.1L579.4 226.6L580.0 226.2L580.7 225.8L581.3 225.5L581.9 225.3L582.6 225.1L583.2 224.9L583.8 224.8L584.4 224.7L585.1 224.7L585.7 224.6L586.3 224.6L587.0 224.5L587.6 224.1L588.2 223.4L588.8 222.7L589.5 222.0L590.1 221.3L590.7 220.6L591.3 220.0L592.0 219.4L592.6 218.8L593.2 218.3L593.9 217.9L594.5 217.5L595.1 217.2L595.7 217.0L596.4 216.9L597.0 216.9L597.6 216.9L598.2 217.0L598.9 217.3L599.5 217.6L600.1 217.9L600.8 218.4L601.4 218.9L602.0 219.5L602.6 220.1L603.3 220.8L603.9 221.5L604.5 222.2L605.2 222.9L605.8 223.2L606.4 223.3L607.0 223.2L607.7 223.2L608.3 223.2L608.9 223.2L609.5 223.2L610.2 223.3L610.8 223.5L611.4 223.8L612.1 224.1L612.7 224.5L613.3 225.0L613.9 225.5L614.6 226.2L615.2 226.9L615.8 227.6L616.5 228.4L617.1 229.3L617.7 230.2L618.3 231.1L619.0 230.2L619.6 229.2L620.2 228.3L620.8 227.4L621.5 226.6L622.1 225.7L622.7 225.0L623.4 224.2L624.0 223.6L624.6 223.0L625.2 222.5L625.9 222.1L626.5 221.7L627.1 221.5L627.7 221.3L628.4 221.1L629.0 221.0L629.6 220.9L630.3 220.8L630.9 220.6L631.5 220.0L632.1 218.9L632.8 217.7L633.4 216.5L634.0 215.3L634.7 214.2L635.3 213.1L635.9 212.0L636.5 211.1L637.2 210.2L637.8 209.4L638.4 208.7L639.0 208.2L639.7 207.7L640.3 207.4L640.9 207.3L641.6 207.3L642.2 207.4L642.8 207.7L643.4 208.1L644.1 208.6L644.7 209.3L645.3 210.1L645.9 211.0L646.6 212.0L647.2 213.1L647.8 214.2L648.5 215.4L649.1 216.6L649.7 217.1L650.3 217.1L651.0 217.0L651.6 216.8L652.2 216.7L652.9 216.6L653.5 216.6L654.1 216.8L654.7 217.0L655.4 217.4L656.0 218.0L656.6 218.7L657.2 219.5L657.9 220.5L658.5 221.7L659.1 222.9L659.8 224.4L660.4 225.9L661.0 227.6L661.6 229.3L662.3 231.1L662.9 229.2L663.5 227.3L664.1 225.4L664.8 223.5L665.4 221.7L666.0 219.9L666.7 218.1L667.3 216.5L667.9 215.0L668.5 213.6L669.2 212.3L669.8 211.2L670.4 210.2L671.1 209.4L671.7 208.7L672.3 208.2L672.9 207.7L673.6 207.2L674.2 206.7L674.8 205.8L675.4 204.2L676.1 201.0L676.7 197.7L677.3 194.2L678.0 190.7L678.6 187.2L679.2 183.7L679.8 180.2L680.5 176.8L681.1 173.6L681.7 170.4L682.4 167.5L683.0 164.8L683.6 162.3L684.2 160.1L684.9 158.3L685.5 156.7L686.1 155.6L686.7 154.8L687.4 154.4L688.0 154.4L688.6 154.8L689.3 155.6L689.9 156.8L690.5 158.4L691.1 160.4L691.8 162.8L692.4 165.5L693.0 168.2L693.6 167.9L694.3 165.5L694.9 162.1L695.5 158.1L696.2 153.6L696.8 149.0L697.4 144.3L698.0 139.6L698.7 134.9L699.3 130.3L699.9 126.0L700.6 121.8L701.2 118.0L701.8 114.5L702.4 111.4L703.1 108.7L703.7 106.5L704.3 104.7L704.9 103.4L705.6 102.7L706.2 102.4L706.8 102.7L707.5 103.4L708.1 104.7L708.7 106.5L709.3 108.7L710.0 111.4L710.6 114.5L711.2 118.0L711.8 121.8L712.5 126.0L713.1 130.3L713.7 134.9L714.4 139.6L715.0 144.3L715.6 149.0L716.2 153.6L716.9 158.1L717.5 162.1L718.1 165.5L718.8 167.9L719.4 168.2L720.0 165.5L720.6 162.8L721.3 160.4L721.9 158.4L722.5 156.8L723.1 155.6L723.8 154.8L724.4 154.4L725.0 154.4L725.7 154.8L726.3 155.6L726.9 156.7L727.5 158.3L728.2 160.1L728.8 162.3L729.4 164.8L730.0 167.5L730.7 170.4L731.3 173.6L731.9 176.8L732.6 180.2L733.2 183.7L733.8 187.2L734.4 190.7L735.1 194.2L735.7 197.7L736.3 201.0L737.0 204.2L737.6 205.8L738.2 206.7L738.8 207.2L739.5 207.7L740.1 208.2L740.7 208.7L741.3 209.4L742.0 210.2L742.6 211.2L743.2 212.3L743.9 213.6L744.5 215.0L745.1 216.5L745.7 218.1L746.4 219.9L747.0 221.7L747.6 223.5L748.3 225.4L748.9 227.3L749.5 229.2L750.1 231.1L750.8 229.3L751.4 227.6L752.0 225.9L752.6 224.4L753.3 222.9L753.9 221.7L754.5 220.5L755.2 219.5L755.8 218.7L756.4 218.0L757.0 217.4L757.7 217.0L758.3 216.8L758.9 216.6L759.5 216.6L760.2 216.7L760.8 216.8L761.4 217.0L762.1 217.1L762.7 217.1L763.3 216.6L763.9 215.4L764.6 214.2L765.2 213.1L765.8 212.0L766.5 211.0L767.1 210.1L767.7 209.3L768.3 208.6L769.0 208.1L769.6 207.7L770.2 207.4L770.8 207.3L771.5 207.3L772.1 207.4L772.7 207.7L773.4 208.2L774.0 208.7L774.6 209.4L775.2 210.2L775.9 211.1L776.5 212.0L777.1 213.1L777.7 214.2L778.4 215.3L779.0 216.5L779.6 217.7L780.3 218.9L780.9 220.0L781.5 220.6L782.1 220.8L782.8 220.9L783.4 221.0L784.0 221.1L784.7 221.3L785.3 221.5L785.9 221.7L786.5 222.1L787.2 222.5L787.8 223.0L788.4 223.6L789.0 224.2L789.7 225.0L790.3 225.7L790.9 226.6L791.6 227.4L792.2 228.3L792.8 229.2L793.4 230.2L794.1 231.1L794.7 230.2L795.3 229.3L795.9 228.4L796.6 227.6L797.2 226.9L797.8 226.2L798.5 225.5L799.1 225.0L799.7 224.5L800.3 224.1L801.0 223.8L801.6 223.5L802.2 223.3L802.9 223.2L803.5 223.2L804.1 223.2L804.7 223.2L805.4 223.2L806.0 223.3L806.6 223.2L807.2 222.9L807.9 222.2L808.5 221.5L809.1 220.8L809.8 220.1L810.4 219.5L811.0 218.9L811.6 218.4L812.3 217.9L812.9 217.6L813.5 217.3L814.2 217.0L814.8 216.9L815.4 216.9L816.0 216.9L816.7 217.0L817.3 217.2L817.9 217.5L818.5 217.9L819.2 218.3L819.8 218.8L820.4 219.4L821.1 220.0L821.7 220.6L822.3 221.3L822.9 222.0L823.6 222.7L824.2 223.4L824.8 224.1L825.4 224.5L826.1 224.6L826.7 224.6L827.3 224.7L828.0 224.7L828.6 224.8L829.2 224.9L829.8 225.1L830.5 225.3L831.1 225.5L831.7 225.8L832.4 226.2L833.0 226.6L833.6 227.1L834.2 227.6L834.9 228.1L835.5 228.7L836.1 229.3L836.7 229.9L837.4 230.5L838.0 231.1" fill="none" stroke="#1515a5" stroke-width="1.7" stroke-linejoin="round"/>
<path d="M659.4 79.2L659.9 79.7L660.5 80.2L661.0 80.7L661.5 81.1L662.0 81.5L662.6 81.9L663.1 82.2L663.6 82.5L664.2 82.8L664.7 83.1L665.2 83.4L665.7 83.6L666.3 83.7L666.8 83.9L667.3 84.0L667.9 84.1L668.4 84.2L668.9 84.2L669.4 84.2L670.0 84.2L670.5 84.1L671.0 84.0L671.5 83.9L672.1 83.7L672.6 83.5L673.1 83.3L673.7 83.0L674.2 82.8L674.7 82.5L675.2 82.1L675.8 81.8L676.3 81.4L676.8 81.0L677.4 80.5L677.9 80.1L678.4 79.6L678.9 79.1L679.5 78.6L680.0 78.1L680.5 77.5L681.1 76.9L681.6 76.4L682.1 75.8L682.6 75.2L683.2 74.5L683.7 73.9L684.2 73.3L684.8 72.6L685.3 72.0L685.8 71.4L686.3 70.7L686.9 70.1L687.4 69.4L687.9 68.8L688.4 68.2L689.0 67.5L689.5 66.9L690.0 66.3L690.6 65.7L691.1 65.1L691.6 64.6L692.1 64.0L692.7 63.5L693.2 62.9L693.7 62.4L694.3 62.0L694.8 61.5L695.3 61.1L695.8 60.7L696.4 60.3L696.9 59.9L697.4 59.6L698.0 59.3L698.5 59.0L699.0 58.7L699.5 58.5L700.1 58.3L700.6 58.2L701.1 58.0L701.7 57.9L702.2 57.8L702.7 57.8L703.2 57.8L703.8 57.8L704.3 57.9L704.8 58.0L705.3 58.1L705.9 58.2L706.4 58.4L706.9 58.6L707.5 58.9L708.0 59.1L708.5 59.4L709.0 59.7L709.6 60.1L710.1 60.5L710.6 60.9L711.2 61.3L711.7 61.7L712.2 62.2L712.7 62.7L713.3 63.2L713.8 63.7L714.3 64.3L714.9 64.8L715.4 65.4L715.9 66.0L716.4 66.6L717.0 67.2L717.5 67.9L718.0 68.5L718.6 69.1L719.1 69.8L719.6 70.4L720.1 71.0L720.7 71.7L721.2 72.3L721.7 73.0L722.2 73.6L722.8 74.2L723.3 74.9L723.8 75.5L724.4 76.1L724.9 76.7L725.4 77.2L725.9 77.8L726.5 78.3L727.0 78.9L727.5 79.4L728.1 79.9L728.6 80.3L729.1 80.8L729.6 81.2L730.2 81.6L730.7 82.0L731.2 82.3L731.8 82.6L732.3 82.9L732.8 83.2L733.3 83.4L733.9 83.6L734.4 83.8L734.9 83.9L735.5 84.0L736.0 84.1L736.5 84.2L737.0 84.2L737.6 84.2L738.1 84.1L738.6 84.1L739.1 84.0L739.7 83.8L740.2 83.7L740.7 83.5L741.3 83.2L741.8 83.0L742.3 82.7L742.8 82.4L743.4 82.0L743.9 81.7L744.4 81.3L745.0 80.9L745.5 80.4L746.0 80.0L746.5 79.5L747.1 79.0L747.6 78.5L748.1 77.9L748.7 77.4L749.2 76.8L749.7 76.2L750.2 75.6L750.8 75.0L751.3 74.4L751.8 73.8L752.4 73.1L752.9 72.5L753.4 71.8L753.9 71.2L754.5 70.6L755.0 69.9L755.5 69.3L756.0 68.6L756.6 68.0L757.1 67.4L757.6 66.8L758.2 66.2L758.7 65.6L759.2 65.0L759.7 64.4L760.3 63.9L760.8 63.3L761.3 62.8L761.9 62.3L762.4 61.9L762.9 61.4L763.4 61.0L764.0 60.6L764.5 60.2L765.0 59.8L765.6 59.5L766.1 59.2L766.6 58.9L767.1 58.7L767.7 58.5L768.2 58.3L768.7 58.1L769.3 58.0L769.8 57.9L770.3 57.8L770.8 57.8L771.4 57.8L771.9 57.8L772.4 57.9L772.9 58.0L773.5 58.1L774.0 58.3L774.5 58.5L775.1 58.7L775.6 58.9L776.1 59.2L776.6 59.5L777.2 59.8L777.7 60.2L778.2 60.6L778.8 61.0L779.3 61.4L779.8 61.9L780.3 62.3L780.9 62.8L781.4 63.3L781.9 63.9L782.5 64.4L783.0 65.0L783.5 65.6L784.0 66.2L784.6 66.8L785.1 67.4L785.6 68.0L786.2 68.6L786.7 69.3L787.2 69.9L787.7 70.6L788.3 71.2L788.8 71.8L789.3 72.5L789.8 73.1L790.4 73.8L790.9 74.4L791.4 75.0L792.0 75.6L792.5 76.2L793.0 76.8L793.5 77.4L794.1 77.9L794.6 78.5L795.1 79.0L795.7 79.5L796.2 80.0L796.7 80.4L797.2 80.9L797.8 81.3L798.3 81.7L798.8 82.0L799.4 82.4L799.9 82.7L800.4 83.0L800.9 83.2L801.5 83.5L802.0 83.7L802.5 83.8L803.1 84.0L803.6 84.1L804.1 84.1L804.6 84.2L805.2 84.2L805.7 84.2L806.2 84.1L806.7 84.0L807.3 83.9L807.8 83.8L808.3 83.6L808.9 83.4L809.4 83.2L809.9 82.9L810.4 82.6L811.0 82.3L811.5 82.0L812.0 81.6L812.6 81.2L813.1 80.8L813.6 80.3L814.1 79.9L814.7 79.4L815.2 78.9L815.7 78.3L816.3 77.8L816.8 77.2L817.3 76.7L817.8 76.1L818.4 75.5L818.9 74.9L819.4 74.2L820.0 73.6L820.5 73.0L821.0 72.3L821.5 71.7L822.1 71.0L822.6 70.4L823.1 69.8L823.6 69.1L824.2 68.5L824.7 67.9L825.2 67.2L825.8 66.6L826.3 66.0L826.8 65.4L827.3 64.8L827.9 64.3L828.4 63.7L828.9 63.2L829.5 62.7L830.0 62.2L830.5 61.7L831.0 61.3L831.6 60.9L832.1 60.5L832.6 60.1L833.2 59.7L833.7 59.4L834.2 59.1L834.7 58.9L835.3 58.6L835.8 58.4L836.3 58.2L836.9 58.1L837.4 58.0L837.9 57.9L838.4 57.8L839.0 57.8L839.5 57.8L840.0 57.8L840.5 57.9L841.1 58.0L841.6 58.2L842.1 58.3L842.7 58.5L843.2 58.7L843.7 59.0L844.2 59.3L844.8 59.6L845.3 59.9L845.8 60.3L846.4 60.7L846.9 61.1L847.4 61.5L847.9 62.0L848.5 62.4L849.0 62.9" fill="none" stroke="#a83830" stroke-width="1"/>
<path d="M659.4 91.1L659.9 90.6L660.5 89.9L661.0 88.9L661.5 87.8L662.0 86.5L662.6 85.0L663.1 83.5L663.6 81.8L664.2 80.2L664.7 78.6L665.2 77.1L665.7 75.7L666.3 74.4L666.8 73.3L667.3 72.4L667.9 71.7L668.4 71.2L668.9 71.0L669.4 71.1L670.0 71.3L670.5 71.9L671.0 72.6L671.5 73.6L672.1 74.7L672.6 76.1L673.1 77.5L673.7 79.1L674.2 80.7L674.7 82.3L675.2 83.9L675.8 85.4L676.3 86.8L676.8 88.1L677.4 89.2L677.9 90.1L678.4 90.8L678.9 91.2L679.5 91.3L680.0 91.2L680.5 90.7L681.1 89.9L681.6 88.9L682.1 87.6L682.6 86.0L683.2 84.1L683.7 82.1L684.2 79.8L684.8 77.5L685.3 75.0L685.8 72.4L686.3 69.9L686.9 67.3L687.4 64.8L687.9 62.4L688.4 60.2L689.0 58.1L689.5 56.2L690.0 54.6L690.6 53.2L691.1 52.2L691.6 51.4L692.1 50.9L692.7 50.7L693.2 50.8L693.7 51.2L694.3 51.8L694.8 52.7L695.3 53.8L695.8 55.0L696.4 56.4L696.9 58.0L697.4 59.5L698.0 61.2L698.5 62.8L699.0 64.3L699.5 65.8L700.1 67.1L700.6 68.3L701.1 69.3L701.7 70.1L702.2 70.6L702.7 70.9L703.2 71.0L703.8 70.8L704.3 70.4L704.8 69.7L705.3 68.8L705.9 67.7L706.4 66.5L706.9 65.0L707.5 63.5L708.0 61.9L708.5 60.3L709.0 58.7L709.6 57.2L710.1 55.7L710.6 54.4L711.2 53.2L711.7 52.2L712.2 51.4L712.7 50.9L713.3 50.7L713.8 50.7L714.3 51.1L714.9 51.7L715.4 52.7L715.9 53.9L716.4 55.4L717.0 57.2L717.5 59.1L718.0 61.3L718.6 63.6L719.1 66.1L719.6 68.6L720.1 71.2L720.7 73.7L721.2 76.3L721.7 78.7L722.2 81.0L722.8 83.1L723.3 85.1L723.8 86.8L724.4 88.3L724.9 89.5L725.4 90.4L725.9 91.0L726.5 91.3L727.0 91.3L727.5 91.0L728.1 90.5L728.6 89.7L729.1 88.7L729.6 87.5L730.2 86.1L730.7 84.6L731.2 83.1L731.8 81.4L732.3 79.8L732.8 78.3L733.3 76.8L733.9 75.4L734.4 74.1L734.9 73.1L735.5 72.2L736.0 71.6L736.5 71.2L737.0 71.0L737.6 71.1L738.1 71.4L738.6 72.0L739.1 72.8L739.7 73.9L740.2 75.1L740.7 76.4L741.3 77.9L741.8 79.4L742.3 81.1L742.8 82.7L743.4 84.3L743.9 85.8L744.4 87.2L745.0 88.4L745.5 89.5L746.0 90.3L746.5 90.9L747.1 91.3L747.6 91.3L748.1 91.1L748.7 90.5L749.2 89.7L749.7 88.6L750.2 87.2L750.8 85.5L751.3 83.6L751.8 81.5L752.4 79.3L752.9 76.9L753.4 74.4L753.9 71.8L754.5 69.2L755.0 66.7L755.5 64.2L756.0 61.8L756.6 59.6L757.1 57.6L757.6 55.8L758.2 54.2L758.7 53.0L759.2 51.9L759.7 51.2L760.3 50.8L760.8 50.7L761.3 50.8L761.9 51.3L762.4 52.0L762.9 52.9L763.4 54.0L764.0 55.4L764.5 56.8L765.0 58.3L765.6 59.9L766.1 61.6L766.6 63.2L767.1 64.7L767.7 66.1L768.2 67.4L768.7 68.6L769.3 69.5L769.8 70.2L770.3 70.7L770.8 71.0L771.4 71.0L771.9 70.7L772.4 70.2L772.9 69.5L773.5 68.6L774.0 67.4L774.5 66.1L775.1 64.7L775.6 63.2L776.1 61.6L776.6 59.9L777.2 58.3L777.7 56.8L778.2 55.4L778.8 54.0L779.3 52.9L779.8 52.0L780.3 51.3L780.9 50.8L781.4 50.7L781.9 50.8L782.5 51.2L783.0 51.9L783.5 53.0L784.0 54.2L784.6 55.8L785.1 57.6L785.6 59.6L786.2 61.9L786.7 64.2L787.2 66.7L787.7 69.2L788.3 71.8L788.8 74.4L789.3 76.9L789.8 79.3L790.4 81.5L790.9 83.6L791.4 85.5L792.0 87.2L792.5 88.6L793.0 89.7L793.5 90.5L794.1 91.1L794.6 91.3L795.1 91.3L795.7 90.9L796.2 90.3L796.7 89.5L797.2 88.4L797.8 87.2L798.3 85.8L798.8 84.3L799.4 82.7L799.9 81.1L800.4 79.4L800.9 77.9L801.5 76.4L802.0 75.1L802.5 73.9L803.1 72.8L803.6 72.0L804.1 71.4L804.6 71.1L805.2 71.0L805.7 71.2L806.2 71.6L806.7 72.2L807.3 73.1L807.8 74.1L808.3 75.4L808.9 76.8L809.4 78.3L809.9 79.8L810.4 81.5L811.0 83.1L811.5 84.6L812.0 86.1L812.6 87.5L813.1 88.7L813.6 89.7L814.1 90.5L814.7 91.0L815.2 91.3L815.7 91.3L816.3 91.0L816.8 90.4L817.3 89.5L817.8 88.3L818.4 86.8L818.9 85.1L819.4 83.1L820.0 81.0L820.5 78.7L821.0 76.3L821.5 73.7L822.1 71.2L822.6 68.6L823.1 66.1L823.6 63.6L824.2 61.3L824.7 59.1L825.2 57.2L825.8 55.4L826.3 53.9L826.8 52.7L827.3 51.7L827.9 51.1L828.4 50.7L828.9 50.7L829.5 50.9L830.0 51.4L830.5 52.2L831.0 53.2L831.6 54.4L832.1 55.7L832.6 57.2L833.2 58.7L833.7 60.3L834.2 62.0L834.7 63.5L835.3 65.0L835.8 66.5L836.3 67.7L836.9 68.8L837.4 69.7L837.9 70.4L838.4 70.8L839.0 71.0L839.5 70.9L840.0 70.6L840.5 70.1L841.1 69.3L841.6 68.3L842.1 67.1L842.7 65.8L843.2 64.3L843.7 62.8L844.2 61.2L844.8 59.5L845.3 58.0L845.8 56.4L846.4 55.0L846.9 53.8L847.4 52.7L847.9 51.8L848.5 51.2L849.0 50.8" fill="none" stroke="#20209a" stroke-width="1.3"/>
<text transform="translate(540.2,164.8) rotate(-90)" text-anchor="middle" class="al" textLength="101.0" lengthAdjust="spacingAndGlyphs">Critical current</text>
<text x="638.2" y="268.5" class="xl" textLength="86.1" lengthAdjust="spacingAndGlyphs">Magnetic flux</text><text x="730.4" y="269.3" class="sy">(</text><text x="736.4" y="268.3" class="sy phi" textLength="10.7" lengthAdjust="spacingAndGlyphs">Φ</text><text x="749.9" y="276.7" class="sub">0</text><text x="756.4" y="269.3" class="sy">)</text>
<line x1="140.2" y1="488.3" x2="144.2" y2="488.3" stroke="#333" stroke-width="1"/>
<line x1="408.1" y1="488.3" x2="404.6" y2="488.3" stroke="#444" stroke-width="1"/>
<line x1="140.2" y1="475.2" x2="142.7" y2="475.2" stroke="#333" stroke-width="1"/>
<line x1="140.2" y1="462.2" x2="144.2" y2="462.2" stroke="#333" stroke-width="1"/>
<line x1="408.1" y1="462.2" x2="404.6" y2="462.2" stroke="#444" stroke-width="1"/>
<line x1="140.2" y1="449.1" x2="142.7" y2="449.1" stroke="#333" stroke-width="1"/>
<line x1="140.2" y1="436.0" x2="144.2" y2="436.0" stroke="#333" stroke-width="1"/>
<line x1="408.1" y1="436.0" x2="404.6" y2="436.0" stroke="#444" stroke-width="1"/>
<line x1="140.2" y1="423.0" x2="142.7" y2="423.0" stroke="#333" stroke-width="1"/>
<line x1="140.2" y1="409.9" x2="144.2" y2="409.9" stroke="#333" stroke-width="1"/>
<line x1="408.1" y1="409.9" x2="404.6" y2="409.9" stroke="#444" stroke-width="1"/>
<line x1="140.2" y1="396.8" x2="142.7" y2="396.8" stroke="#333" stroke-width="1"/>
<line x1="140.2" y1="383.7" x2="144.2" y2="383.7" stroke="#333" stroke-width="1"/>
<line x1="408.1" y1="383.7" x2="404.6" y2="383.7" stroke="#444" stroke-width="1"/>
<line x1="140.2" y1="370.7" x2="142.7" y2="370.7" stroke="#333" stroke-width="1"/>
<line x1="140.2" y1="357.6" x2="144.2" y2="357.6" stroke="#333" stroke-width="1"/>
<line x1="408.1" y1="357.6" x2="404.6" y2="357.6" stroke="#444" stroke-width="1"/>
<line x1="140.2" y1="488.3" x2="140.2" y2="484.3" stroke="#333" stroke-width="1"/>
<line x1="140.2" y1="357.6" x2="140.2" y2="360.6" stroke="#555" stroke-width="1"/>
<line x1="184.8" y1="488.3" x2="184.8" y2="484.3" stroke="#333" stroke-width="1"/>
<line x1="184.8" y1="357.6" x2="184.8" y2="360.6" stroke="#555" stroke-width="1"/>
<line x1="229.5" y1="488.3" x2="229.5" y2="484.3" stroke="#333" stroke-width="1"/>
<line x1="229.5" y1="357.6" x2="229.5" y2="360.6" stroke="#555" stroke-width="1"/>
<line x1="274.1" y1="488.3" x2="274.1" y2="484.3" stroke="#333" stroke-width="1"/>
<line x1="274.1" y1="357.6" x2="274.1" y2="360.6" stroke="#555" stroke-width="1"/>
<line x1="318.8" y1="488.3" x2="318.8" y2="484.3" stroke="#333" stroke-width="1"/>
<line x1="318.8" y1="357.6" x2="318.8" y2="360.6" stroke="#555" stroke-width="1"/>
<line x1="363.5" y1="488.3" x2="363.5" y2="484.3" stroke="#333" stroke-width="1"/>
<line x1="363.5" y1="357.6" x2="363.5" y2="360.6" stroke="#555" stroke-width="1"/>
<line x1="408.1" y1="488.3" x2="408.1" y2="484.3" stroke="#333" stroke-width="1"/>
<line x1="408.1" y1="357.6" x2="408.1" y2="360.6" stroke="#555" stroke-width="1"/>
<line x1="140.2" y1="357.6" x2="408.1" y2="357.6" stroke="#333" stroke-width="1.3"/>
<line x1="408.1" y1="357.6" x2="408.1" y2="488.3" stroke="#666" stroke-width="1.6"/>
<line x1="140.2" y1="357.1" x2="140.2" y2="488.8" stroke="#555" stroke-width="1.6"/>
<line x1="139.7" y1="488.3" x2="408.6" y2="488.3" stroke="#555" stroke-width="1.4"/>
<text x="135.7" y="491.9" text-anchor="end" class="tk">0.0</text>
<text x="135.7" y="465.8" text-anchor="end" class="tk">0.2</text>
<text x="135.7" y="439.6" text-anchor="end" class="tk">0.4</text>
<text x="135.7" y="413.5" text-anchor="end" class="tk">0.6</text>
<text x="135.7" y="387.3" text-anchor="end" class="tk">0.8</text>
<text x="135.7" y="361.2" text-anchor="end" class="tk">1.0</text>
<text x="138.7" y="501.8" text-anchor="middle" class="tk">-3</text>
<text x="183.3" y="501.8" text-anchor="middle" class="tk">-2</text>
<text x="228.0" y="501.8" text-anchor="middle" class="tk">-1</text>
<text x="274.1" y="501.8" text-anchor="middle" class="tk">0</text>
<text x="318.8" y="501.8" text-anchor="middle" class="tk">1</text>
<text x="363.5" y="501.8" text-anchor="middle" class="tk">2</text>
<text x="408.1" y="501.8" text-anchor="middle" class="tk">3</text>
<path d="M140.2 488.3L140.8 487.7L141.5 487.0L142.1 486.4L142.8 485.8L143.4 485.1L144.0 484.5L144.7 483.9L145.3 483.2L145.9 482.6L146.6 482.0L147.2 481.4L147.9 480.8L148.5 480.2L149.1 479.6L149.8 479.0L150.4 478.4L151.0 477.9L151.7 477.3L152.3 476.8L153.0 476.3L153.6 475.8L154.2 475.4L154.9 474.9L155.5 474.5L156.1 474.1L156.8 473.7L157.4 473.4L158.1 473.1L158.7 472.8L159.3 472.5L160.0 472.3L160.6 472.1L161.2 471.9L161.9 471.8L162.5 471.7L163.2 471.6L163.8 471.5L164.4 471.5L165.1 471.5L165.7 471.6L166.4 471.7L167.0 471.8L167.6 472.0L168.3 472.2L168.9 472.4L169.5 472.7L170.2 473.0L170.8 473.3L171.5 473.7L172.1 474.1L172.7 474.5L173.4 475.0L174.0 475.5L174.6 476.0L175.3 476.6L175.9 477.2L176.6 477.8L177.2 478.5L177.8 479.2L178.5 479.9L179.1 480.6L179.7 481.4L180.4 482.2L181.0 483.0L181.7 483.8L182.3 484.7L182.9 485.6L183.6 486.5L184.2 487.4L184.8 488.3L185.5 487.4L186.1 486.4L186.8 485.4L187.4 484.5L188.0 483.5L188.7 482.5L189.3 481.5L190.0 480.5L190.6 479.6L191.2 478.6L191.9 477.6L192.5 476.6L193.1 475.7L193.8 474.7L194.4 473.8L195.1 472.8L195.7 471.9L196.3 471.0L197.0 470.2L197.6 469.3L198.2 468.5L198.9 467.7L199.5 466.9L200.2 466.2L200.8 465.5L201.4 464.8L202.1 464.2L202.7 463.6L203.3 463.0L204.0 462.5L204.6 462.0L205.3 461.6L205.9 461.2L206.5 460.9L207.2 460.6L207.8 460.3L208.5 460.1L209.1 460.0L209.7 459.9L210.4 459.9L211.0 459.9L211.6 460.0L212.3 460.2L212.9 460.4L213.6 460.7L214.2 461.0L214.8 461.4L215.5 461.9L216.1 462.4L216.7 463.0L217.4 463.7L218.0 464.4L218.7 465.2L219.3 466.0L219.9 466.9L220.6 467.9L221.2 469.0L221.8 470.1L222.5 471.3L223.1 472.5L223.8 473.8L224.4 475.2L225.0 476.6L225.7 478.1L226.3 479.7L226.9 481.3L227.6 482.9L228.2 484.7L228.9 486.5L229.5 488.3L230.1 486.4L230.8 484.5L231.4 482.5L232.1 480.4L232.7 478.3L233.3 476.2L234.0 474.0L234.6 471.8L235.2 469.5L235.9 467.2L236.5 464.9L237.2 462.5L237.8 460.2L238.4 457.7L239.1 455.3L239.7 452.8L240.3 450.3L241.0 447.8L241.6 445.3L242.3 442.8L242.9 440.2L243.5 437.7L244.2 435.1L244.8 432.6L245.4 430.0L246.1 427.4L246.7 424.9L247.4 422.4L248.0 419.8L248.6 417.3L249.3 414.8L249.9 412.4L250.5 409.9L251.2 407.5L251.8 405.1L252.5 402.7L253.1 400.4L253.7 398.1L254.4 395.9L255.0 393.7L255.7 391.5L256.3 389.4L256.9 387.3L257.6 385.3L258.2 383.3L258.8 381.4L259.5 379.6L260.1 377.8L260.8 376.1L261.4 374.5L262.0 372.9L262.7 371.4L263.3 369.9L263.9 368.5L264.6 367.3L265.2 366.0L265.9 364.9L266.5 363.8L267.1 362.8L267.8 361.9L268.4 361.1L269.0 360.4L269.7 359.7L270.3 359.2L271.0 358.7L271.6 358.3L272.2 358.0L272.9 357.8L273.5 357.6L274.1 357.6L274.8 357.6L275.4 357.8L276.1 358.0L276.7 358.3L277.3 358.7L278.0 359.2L278.6 359.7L279.3 360.4L279.9 361.1L280.5 361.9L281.2 362.8L281.8 363.8L282.4 364.9L283.1 366.0L283.7 367.3L284.4 368.5L285.0 369.9L285.6 371.4L286.3 372.9L286.9 374.5L287.5 376.1L288.2 377.8L288.8 379.6L289.5 381.4L290.1 383.3L290.7 385.3L291.4 387.3L292.0 389.4L292.6 391.5L293.3 393.7L293.9 395.9L294.6 398.1L295.2 400.4L295.8 402.7L296.5 405.1L297.1 407.5L297.8 409.9L298.4 412.4L299.0 414.8L299.7 417.3L300.3 419.8L300.9 422.4L301.6 424.9L302.2 427.4L302.9 430.0L303.5 432.6L304.1 435.1L304.8 437.7L305.4 440.2L306.0 442.8L306.7 445.3L307.3 447.8L308.0 450.3L308.6 452.8L309.2 455.3L309.9 457.7L310.5 460.2L311.1 462.5L311.8 464.9L312.4 467.2L313.1 469.5L313.7 471.8L314.3 474.0L315.0 476.2L315.6 478.3L316.2 480.4L316.9 482.5L317.5 484.5L318.2 486.4L318.8 488.3L319.4 486.5L320.1 484.7L320.7 482.9L321.4 481.3L322.0 479.7L322.6 478.1L323.3 476.6L323.9 475.2L324.5 473.8L325.2 472.5L325.8 471.3L326.5 470.1L327.1 469.0L327.7 467.9L328.4 466.9L329.0 466.0L329.6 465.2L330.3 464.4L330.9 463.7L331.6 463.0L332.2 462.4L332.8 461.9L333.5 461.4L334.1 461.0L334.7 460.7L335.4 460.4L336.0 460.2L336.7 460.0L337.3 459.9L337.9 459.9L338.6 459.9L339.2 460.0L339.8 460.1L340.5 460.3L341.1 460.6L341.8 460.9L342.4 461.2L343.0 461.6L343.7 462.0L344.3 462.5L345.0 463.0L345.6 463.6L346.2 464.2L346.9 464.8L347.5 465.5L348.1 466.2L348.8 466.9L349.4 467.7L350.1 468.5L350.7 469.3L351.3 470.2L352.0 471.0L352.6 471.9L353.2 472.8L353.9 473.8L354.5 474.7L355.2 475.7L355.8 476.6L356.4 477.6L357.1 478.6L357.7 479.6L358.3 480.5L359.0 481.5L359.6 482.5L360.3 483.5L360.9 484.5L361.5 485.4L362.2 486.4L362.8 487.4L363.5 488.3L364.1 487.4L364.7 486.5L365.4 485.6L366.0 484.7L366.6 483.8L367.3 483.0L367.9 482.2L368.6 481.4L369.2 480.6L369.8 479.9L370.5 479.2L371.1 478.5L371.7 477.8L372.4 477.2L373.0 476.6L373.7 476.0L374.3 475.5L374.9 475.0L375.6 474.5L376.2 474.1L376.8 473.7L377.5 473.3L378.1 473.0L378.8 472.7L379.4 472.4L380.0 472.2L380.7 472.0L381.3 471.8L381.9 471.7L382.6 471.6L383.2 471.5L383.9 471.5L384.5 471.5L385.1 471.6L385.8 471.7L386.4 471.8L387.1 471.9L387.7 472.1L388.3 472.3L389.0 472.5L389.6 472.8L390.2 473.1L390.9 473.4L391.5 473.7L392.2 474.1L392.8 474.5L393.4 474.9L394.1 475.4L394.7 475.8L395.3 476.3L396.0 476.8L396.6 477.3L397.3 477.9L397.9 478.4L398.5 479.0L399.2 479.6L399.8 480.2L400.4 480.8L401.1 481.4L401.7 482.0L402.4 482.6L403.0 483.2L403.6 483.9L404.3 484.5L404.9 485.1L405.5 485.8L406.2 486.4L406.8 487.0L407.5 487.7L408.1 488.3" fill="none" stroke="#c02828" stroke-width="1.1"/>
<path d="M140.2 488.3L140.8 487.7L141.5 487.1L142.1 486.4L142.8 485.8L143.4 485.2L144.0 484.7L144.7 484.2L145.3 483.7L145.9 483.2L146.6 482.8L147.2 482.4L147.9 482.1L148.5 481.8L149.1 481.6L149.8 481.5L150.4 481.3L151.0 481.3L151.7 481.2L152.3 481.2L153.0 481.2L153.6 481.3L154.2 481.3L154.9 481.3L155.5 481.2L156.1 481.1L156.8 481.0L157.4 480.8L158.1 480.6L158.7 480.3L159.3 480.1L160.0 479.9L160.6 479.7L161.2 479.6L161.9 479.5L162.5 479.4L163.2 479.4L163.8 479.4L164.4 479.4L165.1 479.5L165.7 479.6L166.4 479.8L167.0 479.9L167.6 480.1L168.3 480.2L168.9 480.3L169.5 480.3L170.2 480.3L170.8 480.2L171.5 480.0L172.1 479.9L172.7 479.8L173.4 479.7L174.0 479.6L174.6 479.6L175.3 479.7L175.9 479.8L176.6 480.0L177.2 480.2L177.8 480.6L178.5 481.0L179.1 481.4L179.7 482.0L180.4 482.6L181.0 483.2L181.7 484.0L182.3 484.8L182.9 485.6L183.6 486.5L184.2 487.4L184.8 488.3L185.5 487.4L186.1 486.4L186.8 485.5L187.4 484.6L188.0 483.7L188.7 482.8L189.3 482.0L190.0 481.2L190.6 480.5L191.2 479.8L191.9 479.2L192.5 478.7L193.1 478.3L193.8 477.9L194.4 477.6L195.1 477.4L195.7 477.3L196.3 477.2L197.0 477.1L197.6 477.1L198.2 477.1L198.9 477.1L199.5 477.1L200.2 477.0L200.8 476.8L201.4 476.5L202.1 476.1L202.7 475.7L203.3 475.3L204.0 474.9L204.6 474.5L205.3 474.2L205.9 473.9L206.5 473.7L207.2 473.5L207.8 473.4L208.5 473.4L209.1 473.4L209.7 473.5L210.4 473.6L211.0 473.7L211.6 473.9L212.3 474.1L212.9 474.3L213.6 474.4L214.2 474.3L214.8 474.2L215.5 474.0L216.1 473.7L216.7 473.4L217.4 473.1L218.0 472.9L218.7 472.7L219.3 472.6L219.9 472.6L220.6 472.7L221.2 473.0L221.8 473.4L222.5 473.9L223.1 474.5L223.8 475.3L224.4 476.3L225.0 477.4L225.7 478.6L226.3 480.0L226.9 481.4L227.6 483.0L228.2 484.7L228.9 486.5L229.5 488.3L230.1 486.4L230.8 484.5L231.4 482.5L232.1 480.6L232.7 478.7L233.3 476.8L234.0 474.9L234.6 473.2L235.2 471.5L235.9 469.9L236.5 468.5L237.2 467.2L237.8 466.0L238.4 464.9L239.1 464.0L239.7 463.3L240.3 462.7L241.0 462.2L241.6 461.8L242.3 461.5L242.9 461.2L243.5 460.8L244.2 460.4L244.8 459.8L245.4 458.9L246.1 457.7L246.7 456.3L247.4 454.8L248.0 453.2L248.6 451.5L249.3 449.8L249.9 448.2L250.5 446.7L251.2 445.2L251.8 443.9L252.5 442.7L253.1 441.6L253.7 440.7L254.4 439.9L255.0 439.2L255.7 438.6L256.3 438.0L256.9 437.4L257.6 436.5L258.2 435.3L258.8 433.6L259.5 431.3L260.1 428.4L260.8 425.0L261.4 421.2L262.0 417.1L262.7 412.8L263.3 408.4L263.9 403.9L264.6 399.4L265.2 394.9L265.9 390.5L266.5 386.2L267.1 382.1L267.8 378.2L268.4 374.5L269.0 371.1L269.7 368.1L270.3 365.4L271.0 363.1L271.6 361.1L272.2 359.6L272.9 358.5L273.5 357.8L274.1 357.6L274.8 357.8L275.4 358.5L276.1 359.6L276.7 361.1L277.3 363.1L278.0 365.4L278.6 368.1L279.3 371.1L279.9 374.5L280.5 378.2L281.2 382.1L281.8 386.2L282.4 390.5L283.1 394.9L283.7 399.4L284.4 403.9L285.0 408.4L285.6 412.8L286.3 417.1L286.9 421.2L287.5 425.0L288.2 428.4L288.8 431.3L289.5 433.6L290.1 435.3L290.7 436.5L291.4 437.4L292.0 438.0L292.6 438.6L293.3 439.2L293.9 439.9L294.6 440.7L295.2 441.6L295.8 442.7L296.5 443.9L297.1 445.2L297.8 446.7L298.4 448.2L299.0 449.8L299.7 451.5L300.3 453.2L300.9 454.8L301.6 456.3L302.2 457.7L302.9 458.9L303.5 459.8L304.1 460.4L304.8 460.8L305.4 461.2L306.0 461.5L306.7 461.8L307.3 462.2L308.0 462.7L308.6 463.3L309.2 464.0L309.9 464.9L310.5 466.0L311.1 467.2L311.8 468.5L312.4 469.9L313.1 471.5L313.7 473.2L314.3 474.9L315.0 476.8L315.6 478.7L316.2 480.6L316.9 482.5L317.5 484.5L318.2 486.4L318.8 488.3L319.4 486.5L320.1 484.7L320.7 483.0L321.4 481.4L322.0 480.0L322.6 478.6L323.3 477.4L323.9 476.3L324.5 475.3L325.2 474.5L325.8 473.9L326.5 473.4L327.1 473.0L327.7 472.7L328.4 472.6L329.0 472.6L329.6 472.7L330.3 472.9L330.9 473.1L331.6 473.4L332.2 473.7L332.8 474.0L333.5 474.2L334.1 474.3L334.7 474.4L335.4 474.3L336.0 474.1L336.7 473.9L337.3 473.7L337.9 473.6L338.6 473.5L339.2 473.4L339.8 473.4L340.5 473.4L341.1 473.5L341.8 473.7L342.4 473.9L343.0 474.2L343.7 474.5L344.3 474.9L345.0 475.3L345.6 475.7L346.2 476.1L346.9 476.5L347.5 476.8L348.1 477.0L348.8 477.1L349.4 477.1L350.1 477.1L350.7 477.1L351.3 477.1L352.0 477.2L352.6 477.3L353.2 477.4L353.9 477.6L354.5 477.9L355.2 478.3L355.8 478.7L356.4 479.2L357.1 479.8L357.7 480.5L358.3 481.2L359.0 482.0L359.6 482.8L360.3 483.7L360.9 484.6L361.5 485.5L362.2 486.4L362.8 487.4L363.5 488.3L364.1 487.4L364.7 486.5L365.4 485.6L366.0 484.8L366.6 484.0L367.3 483.2L367.9 482.6L368.6 482.0L369.2 481.4L369.8 481.0L370.5 480.6L371.1 480.2L371.7 480.0L372.4 479.8L373.0 479.7L373.7 479.6L374.3 479.6L374.9 479.7L375.6 479.8L376.2 479.9L376.8 480.0L377.5 480.2L378.1 480.3L378.8 480.3L379.4 480.3L380.0 480.2L380.7 480.1L381.3 479.9L381.9 479.8L382.6 479.6L383.2 479.5L383.9 479.4L384.5 479.4L385.1 479.4L385.8 479.4L386.4 479.5L387.1 479.6L387.7 479.7L388.3 479.9L389.0 480.1L389.6 480.3L390.2 480.6L390.9 480.8L391.5 481.0L392.2 481.1L392.8 481.2L393.4 481.3L394.1 481.3L394.7 481.3L395.3 481.2L396.0 481.2L396.6 481.2L397.3 481.3L397.9 481.3L398.5 481.5L399.2 481.6L399.8 481.8L400.4 482.1L401.1 482.4L401.7 482.8L402.4 483.2L403.0 483.7L403.6 484.2L404.3 484.7L404.9 485.2L405.5 485.8L406.2 486.4L406.8 487.1L407.5 487.7L408.1 488.3" fill="none" stroke="#1515a5" stroke-width="1.7" stroke-linejoin="round"/>
<path d="M246.9 329.3L247.5 329.6L248.0 329.9L248.6 330.2L249.2 330.5L249.7 330.8L250.3 331.0L250.9 331.2L251.4 331.4L252.0 331.6L252.5 331.8L253.1 331.9L253.7 332.1L254.2 332.2L254.8 332.3L255.4 332.3L255.9 332.4L256.5 332.4L257.1 332.4L257.6 332.4L258.2 332.3L258.8 332.3L259.3 332.2L259.9 332.1L260.5 332.0L261.0 331.8L261.6 331.7L262.2 331.5L262.7 331.3L263.3 331.1L263.8 330.8L264.4 330.6L265.0 330.3L265.5 330.0L266.1 329.7L266.7 329.4L267.2 329.0L267.8 328.7L268.4 328.3L268.9 328.0L269.5 327.6L270.1 327.2L270.6 326.8L271.2 326.4L271.8 325.9L272.3 325.5L272.9 325.1L273.5 324.7L274.0 324.2L274.6 323.8L275.1 323.3L275.7 322.9L276.3 322.5L276.8 322.0L277.4 321.6L278.0 321.1L278.5 320.7L279.1 320.3L279.7 319.9L280.2 319.5L280.8 319.1L281.4 318.7L281.9 318.3L282.5 317.9L283.1 317.6L283.6 317.2L284.2 316.9L284.7 316.6L285.3 316.3L285.9 316.0L286.4 315.7L287.0 315.5L287.6 315.3L288.1 315.0L288.7 314.9L289.3 314.7L289.8 314.5L290.4 314.4L291.0 314.3L291.5 314.2L292.1 314.1L292.7 314.0L293.2 314.0L293.8 314.0L294.4 314.0L294.9 314.0L295.5 314.1L296.0 314.2L296.6 314.3L297.2 314.4L297.7 314.5L298.3 314.7L298.9 314.8L299.4 315.0L300.0 315.2L300.6 315.5L301.1 315.7L301.7 316.0L302.3 316.3L302.8 316.6L303.4 316.9L304.0 317.2L304.5 317.6L305.1 317.9L305.6 318.3L306.2 318.7L306.8 319.1L307.3 319.5L307.9 319.9L308.5 320.3L309.0 320.7L309.6 321.1L310.2 321.6L310.7 322.0L311.3 322.4L311.9 322.9L312.4 323.3L313.0 323.8L313.6 324.2L314.1 324.6L314.7 325.1L315.3 325.5L315.8 325.9L316.4 326.3L316.9 326.8L317.5 327.2L318.1 327.6L318.6 327.9L319.2 328.3L319.8 328.7L320.3 329.0L320.9 329.4L321.5 329.7L322.0 330.0L322.6 330.3L323.2 330.6L323.7 330.8L324.3 331.0L324.9 331.3L325.4 331.5L326.0 331.7L326.6 331.8L327.1 332.0L327.7 332.1L328.2 332.2L328.8 332.3L329.4 332.3L329.9 332.4L330.5 332.4L331.1 332.4L331.6 332.4L332.2 332.3L332.8 332.3L333.3 332.2L333.9 332.1L334.5 331.9L335.0 331.8L335.6 331.6L336.2 331.4L336.7 331.2L337.3 331.0L337.8 330.8L338.4 330.5L339.0 330.2L339.5 329.9L340.1 329.6L340.7 329.3L341.2 329.0L341.8 328.6L342.4 328.3L342.9 327.9L343.5 327.5L344.1 327.1L344.6 326.7L345.2 326.3L345.8 325.9L346.3 325.4L346.9 325.0L347.5 324.6L348.0 324.1L348.6 323.7L349.1 323.3L349.7 322.8L350.3 322.4L350.8 321.9L351.4 321.5L352.0 321.1L352.5 320.6L353.1 320.2L353.7 319.8L354.2 319.4L354.8 319.0L355.4 318.6L355.9 318.2L356.5 317.9L357.1 317.5L357.6 317.2L358.2 316.8L358.8 316.5L359.3 316.2L359.9 316.0L360.4 315.7L361.0 315.4L361.6 315.2L362.1 315.0L362.7 314.8L363.3 314.6L363.8 314.5L364.4 314.4L365.0 314.2L365.5 314.2L366.1 314.1L366.7 314.0L367.2 314.0L367.8 314.0L368.4 314.0L368.9 314.0L369.5 314.1L370.0 314.2L370.6 314.3L371.2 314.4L371.7 314.5L372.3 314.7L372.9 314.9L373.4 315.1L374.0 315.3L374.6 315.5L375.1 315.8L375.7 316.0L376.3 316.3L376.8 316.6L377.4 317.0L378.0 317.3L378.5 317.6L379.1 318.0L379.7 318.4L380.2 318.7L380.8 319.1L381.3 319.5L381.9 319.9L382.5 320.4L383.0 320.8L383.6 321.2L384.2 321.6L384.7 322.1L385.3 322.5L385.9 323.0L386.4 323.4L387.0 323.8L387.6 324.3L388.1 324.7L388.7 325.2L389.3 325.6L389.8 326.0L390.4 326.4L391.0 326.8L391.5 327.2L392.1 327.6L392.6 328.0L393.2 328.4L393.8 328.7L394.3 329.1L394.9 329.4L395.5 329.7L396.0 330.0L396.6 330.3L397.2 330.6L397.7 330.9L398.3 331.1L398.9 331.3L399.4 331.5L400.0 331.7L400.6 331.8L401.1 332.0L401.7 332.1L402.2 332.2L402.8 332.3L403.4 332.3L403.9 332.4L404.5 332.4L405.1 332.4L405.6 332.4L406.2 332.3L406.8 332.3L407.3 332.2L407.9 332.1L408.5 331.9L409.0 331.8L409.6 331.6L410.2 331.4L410.7 331.2L411.3 331.0L411.9 330.7L412.4 330.5L413.0 330.2L413.5 329.9L414.1 329.6L414.7 329.3L415.2 328.9L415.8 328.6L416.4 328.2L416.9 327.8L417.5 327.4L418.1 327.0L418.6 326.6L419.2 326.2L419.8 325.8L420.3 325.4L420.9 324.9L421.5 324.5L422.0 324.1L422.6 323.6L423.1 323.2L423.7 322.7L424.3 322.3L424.8 321.9L425.4 321.4L426.0 321.0L426.5 320.6L427.1 320.1L427.7 319.7L428.2 319.3L428.8 318.9L429.4 318.5L429.9 318.2L430.5 317.8L431.1 317.5L431.6 317.1L432.2 316.8L432.8 316.5L433.3 316.2L433.9 315.9L434.4 315.6L435.0 315.4L435.6 315.2L436.1 315.0L436.7 314.8L437.3 314.6L437.8 314.5L438.4 314.3L439.0 314.2L439.5 314.1L440.1 314.1L440.7 314.0L441.2 314.0L441.8 314.0L442.4 314.0L442.9 314.1L443.5 314.1L444.1 314.2L444.6 314.3L445.2 314.4L445.7 314.6L446.3 314.7L446.9 314.9L447.4 315.1L448.0 315.3L448.6 315.6L449.1 315.8L449.7 316.1" fill="none" stroke="#a83830" stroke-width="1"/>
<path d="M246.9 327.7L247.5 327.2L248.0 326.5L248.6 325.8L249.2 325.1L249.7 324.4L250.3 323.7L250.9 323.0L251.4 322.4L252.0 321.9L252.5 321.4L253.1 321.2L253.7 321.0L254.2 321.0L254.8 321.2L255.4 321.5L255.9 322.0L256.5 322.7L257.1 323.6L257.6 324.6L258.2 325.8L258.8 327.1L259.3 328.5L259.9 330.1L260.5 331.7L261.0 333.4L261.6 335.0L262.2 336.7L262.7 338.3L263.3 339.9L263.8 341.3L264.4 342.6L265.0 343.8L265.5 344.7L266.1 345.4L266.7 345.9L267.2 346.2L267.8 346.2L268.4 345.9L268.9 345.3L269.5 344.4L270.1 343.3L270.6 341.9L271.2 340.3L271.8 338.5L272.3 336.4L272.9 334.2L273.5 331.8L274.0 329.3L274.6 326.7L275.1 324.0L275.7 321.4L276.3 318.8L276.8 316.2L277.4 313.7L278.0 311.4L278.5 309.2L279.1 307.2L279.7 305.5L280.2 303.9L280.8 302.6L281.4 301.6L281.9 300.9L282.5 300.4L283.1 300.2L283.6 300.3L284.2 300.6L284.7 301.2L285.3 302.0L285.9 303.0L286.4 304.2L287.0 305.6L287.6 307.1L288.1 308.7L288.7 310.3L289.3 312.0L289.8 313.6L290.4 315.3L291.0 316.9L291.5 318.4L292.1 319.8L292.7 321.1L293.2 322.2L293.8 323.2L294.4 324.0L294.9 324.6L295.5 325.1L296.0 325.3L296.6 325.4L297.2 325.4L297.7 325.2L298.3 324.8L298.9 324.3L299.4 323.8L300.0 323.1L300.6 322.5L301.1 321.7L301.7 321.0L302.3 320.3L302.8 319.6L303.4 319.0L304.0 318.5L304.5 318.0L305.1 317.7L305.6 317.5L306.2 317.4L306.8 317.4L307.3 317.5L307.9 317.8L308.5 318.2L309.0 318.8L309.6 319.4L310.2 320.1L310.7 320.9L311.3 321.7L311.9 322.6L312.4 323.4L313.0 324.3L313.6 325.2L314.1 326.0L314.7 326.7L315.3 327.4L315.8 327.9L316.4 328.4L316.9 328.7L317.5 329.0L318.1 329.0L318.6 329.0L319.2 328.8L319.8 328.5L320.3 328.1L320.9 327.6L321.5 327.1L322.0 326.4L322.6 325.7L323.2 325.0L323.7 324.3L324.3 323.6L324.9 322.9L325.4 322.3L326.0 321.8L326.6 321.4L327.1 321.1L327.7 321.0L328.2 321.0L328.8 321.2L329.4 321.6L329.9 322.1L330.5 322.8L331.1 323.7L331.6 324.8L332.2 326.0L332.8 327.3L333.3 328.8L333.9 330.4L334.5 332.0L335.0 333.7L335.6 335.3L336.2 337.0L336.7 338.6L337.3 340.1L337.8 341.6L338.4 342.8L339.0 343.9L339.5 344.8L340.1 345.5L340.7 346.0L341.2 346.2L341.8 346.1L342.4 345.8L342.9 345.2L343.5 344.3L344.1 343.1L344.6 341.7L345.2 340.0L345.8 338.1L346.3 336.0L346.9 333.7L347.5 331.3L348.0 328.8L348.6 326.2L349.1 323.6L349.7 320.9L350.3 318.3L350.8 315.8L351.4 313.3L352.0 311.0L352.5 308.9L353.1 306.9L353.7 305.2L354.2 303.7L354.8 302.4L355.4 301.5L355.9 300.8L356.5 300.3L357.1 300.2L357.6 300.3L358.2 300.7L358.8 301.3L359.3 302.2L359.9 303.2L360.4 304.5L361.0 305.9L361.6 307.4L362.1 308.9L362.7 310.6L363.3 312.3L363.8 314.0L364.4 315.6L365.0 317.2L365.5 318.7L366.1 320.0L366.7 321.3L367.2 322.4L367.8 323.3L368.4 324.1L368.9 324.7L369.5 325.1L370.0 325.4L370.6 325.4L371.2 325.3L371.7 325.1L372.3 324.7L372.9 324.3L373.4 323.7L374.0 323.0L374.6 322.3L375.1 321.6L375.7 320.9L376.3 320.2L376.8 319.5L377.4 318.9L378.0 318.4L378.5 318.0L379.1 317.6L379.7 317.4L380.2 317.4L380.8 317.4L381.3 317.6L381.9 317.9L382.5 318.3L383.0 318.9L383.6 319.5L384.2 320.2L384.7 321.0L385.3 321.8L385.9 322.7L386.4 323.6L387.0 324.5L387.6 325.3L388.1 326.1L388.7 326.8L389.3 327.5L389.8 328.0L390.4 328.5L391.0 328.8L391.5 329.0L392.1 329.0L392.6 329.0L393.2 328.8L393.8 328.5L394.3 328.1L394.9 327.5L395.5 326.9L396.0 326.3L396.6 325.6L397.2 324.9L397.7 324.1L398.3 323.4L398.9 322.8L399.4 322.2L400.0 321.7L400.6 321.3L401.1 321.1L401.7 321.0L402.2 321.0L402.8 321.3L403.4 321.7L403.9 322.2L404.5 323.0L405.1 323.9L405.6 325.0L406.2 326.2L406.8 327.6L407.3 329.1L407.9 330.7L408.5 332.3L409.0 334.0L409.6 335.6L410.2 337.3L410.7 338.9L411.3 340.4L411.9 341.8L412.4 343.0L413.0 344.1L413.5 345.0L414.1 345.6L414.7 346.0L415.2 346.2L415.8 346.1L416.4 345.7L416.9 345.0L417.5 344.1L418.1 342.9L418.6 341.4L419.2 339.7L419.8 337.7L420.3 335.6L420.9 333.3L421.5 330.9L422.0 328.3L422.6 325.7L423.1 323.1L423.7 320.4L424.3 317.8L424.8 315.3L425.4 312.9L426.0 310.6L426.5 308.5L427.1 306.6L427.7 304.9L428.2 303.4L428.8 302.2L429.4 301.3L429.9 300.7L430.5 300.3L431.1 300.2L431.6 300.4L432.2 300.8L432.8 301.5L433.3 302.4L433.9 303.5L434.4 304.7L435.0 306.1L435.6 307.6L436.1 309.2L436.7 310.9L437.3 312.6L437.8 314.3L438.4 315.9L439.0 317.4L439.5 318.9L440.1 320.3L440.7 321.5L441.2 322.6L441.8 323.5L442.4 324.2L442.9 324.8L443.5 325.2L444.1 325.4L444.6 325.4L445.2 325.3L445.7 325.0L446.3 324.7L446.9 324.2L447.4 323.6L448.0 322.9L448.6 322.2L449.1 321.5L449.7 320.8" fill="none" stroke="#20209a" stroke-width="1.3"/>
<text transform="translate(105.8,421.5) rotate(-90)" text-anchor="middle" class="al" textLength="101.0" lengthAdjust="spacingAndGlyphs">Critical current</text>
<text x="204.8" y="525.8" class="xl" textLength="86.9" lengthAdjust="spacingAndGlyphs">Magnetic flux</text><text x="297.9" y="526.6" class="sy">(</text><text x="304.0" y="525.6" class="sy phi" textLength="10.8" lengthAdjust="spacingAndGlyphs">Φ</text><text x="317.6" y="534.0" class="sub">0</text><text x="324.1" y="526.6" class="sy">)</text>
<line x1="584.4" y1="488.3" x2="588.4" y2="488.3" stroke="#333" stroke-width="1"/>
<line x1="839.4" y1="488.3" x2="835.9" y2="488.3" stroke="#444" stroke-width="1"/>
<line x1="584.4" y1="475.8" x2="586.9" y2="475.8" stroke="#333" stroke-width="1"/>
<line x1="584.4" y1="463.3" x2="588.4" y2="463.3" stroke="#333" stroke-width="1"/>
<line x1="839.4" y1="463.3" x2="835.9" y2="463.3" stroke="#444" stroke-width="1"/>
<line x1="584.4" y1="450.9" x2="586.9" y2="450.9" stroke="#333" stroke-width="1"/>
<line x1="584.4" y1="438.4" x2="588.4" y2="438.4" stroke="#333" stroke-width="1"/>
<line x1="839.4" y1="438.4" x2="835.9" y2="438.4" stroke="#444" stroke-width="1"/>
<line x1="584.4" y1="425.9" x2="586.9" y2="425.9" stroke="#333" stroke-width="1"/>
<line x1="584.4" y1="413.4" x2="588.4" y2="413.4" stroke="#333" stroke-width="1"/>
<line x1="839.4" y1="413.4" x2="835.9" y2="413.4" stroke="#444" stroke-width="1"/>
<line x1="584.4" y1="400.9" x2="586.9" y2="400.9" stroke="#333" stroke-width="1"/>
<line x1="584.4" y1="388.5" x2="588.4" y2="388.5" stroke="#333" stroke-width="1"/>
<line x1="839.4" y1="388.5" x2="835.9" y2="388.5" stroke="#444" stroke-width="1"/>
<line x1="584.4" y1="376.0" x2="586.9" y2="376.0" stroke="#333" stroke-width="1"/>
<line x1="584.4" y1="363.5" x2="588.4" y2="363.5" stroke="#333" stroke-width="1"/>
<line x1="839.4" y1="363.5" x2="835.9" y2="363.5" stroke="#444" stroke-width="1"/>
<line x1="584.4" y1="488.3" x2="584.4" y2="484.3" stroke="#333" stroke-width="1"/>
<line x1="584.4" y1="363.5" x2="584.4" y2="366.5" stroke="#555" stroke-width="1"/>
<line x1="626.9" y1="488.3" x2="626.9" y2="484.3" stroke="#333" stroke-width="1"/>
<line x1="626.9" y1="363.5" x2="626.9" y2="366.5" stroke="#555" stroke-width="1"/>
<line x1="669.4" y1="488.3" x2="669.4" y2="484.3" stroke="#333" stroke-width="1"/>
<line x1="669.4" y1="363.5" x2="669.4" y2="366.5" stroke="#555" stroke-width="1"/>
<line x1="711.9" y1="488.3" x2="711.9" y2="484.3" stroke="#333" stroke-width="1"/>
<line x1="711.9" y1="363.5" x2="711.9" y2="366.5" stroke="#555" stroke-width="1"/>
<line x1="754.4" y1="488.3" x2="754.4" y2="484.3" stroke="#333" stroke-width="1"/>
<line x1="754.4" y1="363.5" x2="754.4" y2="366.5" stroke="#555" stroke-width="1"/>
<line x1="796.9" y1="488.3" x2="796.9" y2="484.3" stroke="#333" stroke-width="1"/>
<line x1="796.9" y1="363.5" x2="796.9" y2="366.5" stroke="#555" stroke-width="1"/>
<line x1="839.4" y1="488.3" x2="839.4" y2="484.3" stroke="#333" stroke-width="1"/>
<line x1="839.4" y1="363.5" x2="839.4" y2="366.5" stroke="#555" stroke-width="1"/>
<line x1="584.4" y1="363.5" x2="839.4" y2="363.5" stroke="#888" stroke-width="1"/>
<line x1="839.4" y1="363.5" x2="839.4" y2="488.3" stroke="#999" stroke-width="1"/>
<line x1="584.4" y1="363.0" x2="584.4" y2="488.8" stroke="#888" stroke-width="1"/>
<line x1="583.9" y1="488.3" x2="839.9" y2="488.3" stroke="#999" stroke-width="1.1"/>
<text x="579.9" y="491.9" text-anchor="end" class="tk">0.0</text>
<text x="579.9" y="466.9" text-anchor="end" class="tk">0.2</text>
<text x="579.9" y="442.0" text-anchor="end" class="tk">0.4</text>
<text x="579.9" y="417.0" text-anchor="end" class="tk">0.6</text>
<text x="579.9" y="392.1" text-anchor="end" class="tk">0.8</text>
<text x="579.9" y="367.1" text-anchor="end" class="tk">1.0</text>
<text x="582.9" y="500.8" text-anchor="middle" class="tk">-3</text>
<text x="625.4" y="500.8" text-anchor="middle" class="tk">-2</text>
<text x="667.9" y="500.8" text-anchor="middle" class="tk">-1</text>
<text x="711.9" y="500.8" text-anchor="middle" class="tk">0</text>
<text x="754.4" y="500.8" text-anchor="middle" class="tk">1</text>
<text x="796.9" y="500.8" text-anchor="middle" class="tk">2</text>
<text x="839.4" y="500.8" text-anchor="middle" class="tk">3</text>
<path d="M584.4 488.3L585.0 487.7L585.6 487.1L586.2 486.5L586.8 485.9L587.4 485.3L588.0 484.7L588.6 484.1L589.3 483.5L589.9 482.9L590.5 482.3L591.1 481.7L591.7 481.1L592.3 480.5L592.9 480.0L593.5 479.4L594.1 478.9L594.7 478.3L595.3 477.8L595.9 477.3L596.5 476.9L597.1 476.4L597.8 476.0L598.4 475.5L599.0 475.1L599.6 474.8L600.2 474.4L600.8 474.1L601.4 473.8L602.0 473.5L602.6 473.2L603.2 473.0L603.8 472.8L604.4 472.7L605.0 472.5L605.6 472.4L606.3 472.3L606.9 472.3L607.5 472.3L608.1 472.3L608.7 472.4L609.3 472.4L609.9 472.6L610.5 472.7L611.1 472.9L611.7 473.1L612.3 473.4L612.9 473.7L613.5 474.0L614.1 474.3L614.8 474.7L615.4 475.1L616.0 475.6L616.6 476.1L617.2 476.6L617.8 477.1L618.4 477.7L619.0 478.3L619.6 478.9L620.2 479.6L620.8 480.3L621.4 481.0L622.0 481.7L622.6 482.5L623.3 483.2L623.9 484.0L624.5 484.9L625.1 485.7L625.7 486.5L626.3 487.4L626.9 488.3L627.5 487.4L628.1 486.5L628.7 485.6L629.3 484.6L629.9 483.7L630.5 482.8L631.1 481.8L631.8 480.9L632.4 480.0L633.0 479.0L633.6 478.1L634.2 477.2L634.8 476.2L635.4 475.3L636.0 474.4L636.6 473.5L637.2 472.7L637.8 471.8L638.4 471.0L639.0 470.2L639.6 469.4L640.3 468.6L640.9 467.9L641.5 467.2L642.1 466.5L642.7 465.9L643.3 465.3L643.9 464.7L644.5 464.2L645.1 463.7L645.7 463.2L646.3 462.8L646.9 462.4L647.5 462.1L648.1 461.8L648.8 461.6L649.4 461.4L650.0 461.3L650.6 461.2L651.2 461.2L651.8 461.2L652.4 461.3L653.0 461.5L653.6 461.7L654.2 461.9L654.8 462.2L655.4 462.6L656.0 463.1L656.6 463.6L657.3 464.1L657.9 464.8L658.5 465.5L659.1 466.2L659.7 467.0L660.3 467.9L660.9 468.8L661.5 469.8L662.1 470.9L662.7 472.0L663.3 473.2L663.9 474.5L664.5 475.8L665.1 477.1L665.8 478.6L666.4 480.0L667.0 481.6L667.6 483.2L668.2 484.8L668.8 486.5L669.4 488.3L670.0 486.5L670.6 484.6L671.2 482.7L671.8 480.8L672.4 478.8L673.0 476.7L673.6 474.7L674.3 472.5L674.9 470.4L675.5 468.2L676.1 466.0L676.7 463.7L677.3 461.4L677.9 459.1L678.5 456.8L679.1 454.4L679.7 452.0L680.3 449.6L680.9 447.2L681.5 444.8L682.1 442.4L682.8 440.0L683.4 437.5L684.0 435.1L684.6 432.6L685.2 430.2L685.8 427.8L686.4 425.3L687.0 422.9L687.6 420.5L688.2 418.1L688.8 415.8L689.4 413.4L690.0 411.1L690.6 408.8L691.3 406.6L691.9 404.4L692.5 402.2L693.1 400.0L693.7 397.9L694.3 395.9L694.9 393.8L695.5 391.9L696.1 390.0L696.7 388.1L697.3 386.3L697.9 384.5L698.5 382.8L699.1 381.2L699.8 379.6L700.4 378.1L701.0 376.6L701.6 375.3L702.2 374.0L702.8 372.7L703.4 371.6L704.0 370.5L704.6 369.4L705.2 368.5L705.8 367.6L706.4 366.9L707.0 366.2L707.6 365.5L708.3 365.0L708.9 364.5L709.5 364.2L710.1 363.9L710.7 363.7L711.3 363.5L711.9 363.5L712.5 363.5L713.1 363.7L713.7 363.9L714.3 364.2L714.9 364.5L715.5 365.0L716.1 365.5L716.8 366.2L717.4 366.9L718.0 367.6L718.6 368.5L719.2 369.4L719.8 370.5L720.4 371.6L721.0 372.7L721.6 374.0L722.2 375.3L722.8 376.6L723.4 378.1L724.0 379.6L724.6 381.2L725.3 382.8L725.9 384.5L726.5 386.3L727.1 388.1L727.7 390.0L728.3 391.9L728.9 393.8L729.5 395.9L730.1 397.9L730.7 400.0L731.3 402.2L731.9 404.4L732.5 406.6L733.1 408.8L733.8 411.1L734.4 413.4L735.0 415.8L735.6 418.1L736.2 420.5L736.8 422.9L737.4 425.3L738.0 427.8L738.6 430.2L739.2 432.6L739.8 435.1L740.4 437.5L741.0 440.0L741.6 442.4L742.3 444.8L742.9 447.2L743.5 449.6L744.1 452.0L744.7 454.4L745.3 456.8L745.9 459.1L746.5 461.4L747.1 463.7L747.7 466.0L748.3 468.2L748.9 470.4L749.5 472.5L750.1 474.7L750.8 476.7L751.4 478.8L752.0 480.8L752.6 482.7L753.2 484.6L753.8 486.5L754.4 488.3L755.0 486.5L755.6 484.8L756.2 483.2L756.8 481.6L757.4 480.0L758.0 478.6L758.6 477.1L759.3 475.8L759.9 474.5L760.5 473.2L761.1 472.0L761.7 470.9L762.3 469.8L762.9 468.8L763.5 467.9L764.1 467.0L764.7 466.2L765.3 465.5L765.9 464.8L766.5 464.1L767.1 463.6L767.8 463.1L768.4 462.6L769.0 462.2L769.6 461.9L770.2 461.7L770.8 461.5L771.4 461.3L772.0 461.2L772.6 461.2L773.2 461.2L773.8 461.3L774.4 461.4L775.0 461.6L775.6 461.8L776.3 462.1L776.9 462.4L777.5 462.8L778.1 463.2L778.7 463.7L779.3 464.2L779.9 464.7L780.5 465.3L781.1 465.9L781.7 466.5L782.3 467.2L782.9 467.9L783.5 468.6L784.1 469.4L784.8 470.2L785.4 471.0L786.0 471.8L786.6 472.7L787.2 473.5L787.8 474.4L788.4 475.3L789.0 476.2L789.6 477.2L790.2 478.1L790.8 479.0L791.4 480.0L792.0 480.9L792.6 481.8L793.3 482.8L793.9 483.7L794.5 484.6L795.1 485.6L795.7 486.5L796.3 487.4L796.9 488.3L797.5 487.4L798.1 486.5L798.7 485.7L799.3 484.9L799.9 484.0L800.5 483.2L801.1 482.5L801.8 481.7L802.4 481.0L803.0 480.3L803.6 479.6L804.2 478.9L804.8 478.3L805.4 477.7L806.0 477.1L806.6 476.6L807.2 476.1L807.8 475.6L808.4 475.1L809.0 474.7L809.6 474.3L810.3 474.0L810.9 473.7L811.5 473.4L812.1 473.1L812.7 472.9L813.3 472.7L813.9 472.6L814.5 472.4L815.1 472.4L815.7 472.3L816.3 472.3L816.9 472.3L817.5 472.3L818.1 472.4L818.8 472.5L819.4 472.7L820.0 472.8L820.6 473.0L821.2 473.2L821.8 473.5L822.4 473.8L823.0 474.1L823.6 474.4L824.2 474.8L824.8 475.1L825.4 475.5L826.0 476.0L826.6 476.4L827.3 476.9L827.9 477.3L828.5 477.8L829.1 478.3L829.7 478.9L830.3 479.4L830.9 480.0L831.5 480.5L832.1 481.1L832.7 481.7L833.3 482.3L833.9 482.9L834.5 483.5L835.1 484.1L835.8 484.7L836.4 485.3L837.0 485.9L837.6 486.5L838.2 487.1L838.8 487.7L839.4 488.3" fill="none" stroke="#c02828" stroke-width="1.1"/>
<path d="M584.4 488.3L585.0 488.3L585.6 488.3L586.2 488.3L586.8 488.2L587.4 488.1L588.0 488.0L588.6 487.9L589.3 487.8L589.9 487.6L590.5 487.4L591.1 487.1L591.7 486.8L592.3 486.6L592.9 486.2L593.5 485.9L594.1 485.6L594.7 485.2L595.3 484.9L595.9 484.5L596.5 484.1L597.1 483.8L597.8 483.4L598.4 483.1L599.0 482.8L599.6 482.5L600.2 482.2L600.8 481.9L601.4 481.6L602.0 481.4L602.6 481.2L603.2 481.1L603.8 481.0L604.4 480.9L605.0 480.8L605.6 480.8L606.3 480.8L606.9 480.9L607.5 481.0L608.1 481.1L608.7 481.2L609.3 481.4L609.9 481.6L610.5 481.9L611.1 482.2L611.7 482.5L612.3 482.8L612.9 483.1L613.5 483.4L614.1 483.8L614.8 484.1L615.4 484.5L616.0 484.9L616.6 485.2L617.2 485.6L617.8 485.9L618.4 486.2L619.0 486.6L619.6 486.8L620.2 487.1L620.8 487.4L621.4 487.6L622.0 487.8L622.6 487.9L623.3 488.0L623.9 488.1L624.5 488.2L625.1 488.3L625.7 488.3L626.3 488.3L626.9 488.3L627.5 488.3L628.1 488.3L628.7 488.2L629.3 488.2L629.9 488.0L630.5 487.9L631.1 487.7L631.8 487.4L632.4 487.1L633.0 486.8L633.6 486.4L634.2 486.0L634.8 485.5L635.4 485.1L636.0 484.5L636.6 484.0L637.2 483.4L637.8 482.9L638.4 482.3L639.0 481.7L639.6 481.1L640.3 480.6L640.9 480.1L641.5 479.5L642.1 479.0L642.7 478.6L643.3 478.2L643.9 477.8L644.5 477.4L645.1 477.1L645.7 476.9L646.3 476.7L646.9 476.6L647.5 476.5L648.1 476.4L648.8 476.5L649.4 476.6L650.0 476.7L650.6 476.9L651.2 477.1L651.8 477.4L652.4 477.8L653.0 478.2L653.6 478.6L654.2 479.0L654.8 479.5L655.4 480.1L656.0 480.6L656.6 481.1L657.3 481.7L657.9 482.3L658.5 482.9L659.1 483.4L659.7 484.0L660.3 484.5L660.9 485.1L661.5 485.5L662.1 486.0L662.7 486.4L663.3 486.8L663.9 487.1L664.5 487.4L665.1 487.7L665.8 487.9L666.4 488.0L667.0 488.2L667.6 488.2L668.2 488.3L668.8 488.3L669.4 488.3L670.0 488.3L670.6 488.3L671.2 488.2L671.8 488.0L672.4 487.8L673.0 487.4L673.6 487.0L674.3 486.4L674.9 485.7L675.5 484.8L676.1 483.9L676.7 482.8L677.3 481.6L677.9 480.3L678.5 478.9L679.1 477.4L679.7 475.8L680.3 474.1L680.9 472.5L681.5 470.8L682.1 469.0L682.8 467.3L683.4 465.6L684.0 463.9L684.6 462.3L685.2 460.7L685.8 459.3L686.4 457.9L687.0 456.6L687.6 455.5L688.2 454.5L688.8 453.6L689.4 452.9L690.0 452.3L690.6 451.9L691.3 451.7L691.9 451.7L692.5 451.8L693.1 452.1L693.7 452.6L694.3 453.3L694.9 454.1L695.5 455.1L696.1 456.2L696.7 457.5L697.3 458.9L697.9 460.4L698.5 462.0L699.1 463.7L699.8 465.4L700.4 467.2L701.0 469.0L701.6 470.9L702.2 472.7L702.8 474.5L703.4 476.3L704.0 478.0L704.6 479.6L705.2 481.1L705.8 482.5L706.4 483.7L707.0 484.9L707.6 485.8L708.3 486.6L708.9 487.2L709.5 487.7L710.1 488.0L710.7 488.2L711.3 488.3L711.9 488.3L712.5 488.3L713.1 488.2L713.7 488.0L714.3 487.7L714.9 487.2L715.5 486.6L716.1 485.8L716.8 484.9L717.4 483.7L718.0 482.5L718.6 481.1L719.2 479.6L719.8 478.0L720.4 476.3L721.0 474.5L721.6 472.7L722.2 470.9L722.8 469.0L723.4 467.2L724.0 465.4L724.6 463.7L725.3 462.0L725.9 460.4L726.5 458.9L727.1 457.5L727.7 456.2L728.3 455.1L728.9 454.1L729.5 453.3L730.1 452.6L730.7 452.1L731.3 451.8L731.9 451.7L732.5 451.7L733.1 451.9L733.8 452.3L734.4 452.9L735.0 453.6L735.6 454.5L736.2 455.5L736.8 456.6L737.4 457.9L738.0 459.3L738.6 460.7L739.2 462.3L739.8 463.9L740.4 465.6L741.0 467.3L741.6 469.0L742.3 470.8L742.9 472.5L743.5 474.1L744.1 475.8L744.7 477.4L745.3 478.9L745.9 480.3L746.5 481.6L747.1 482.8L747.7 483.9L748.3 484.8L748.9 485.7L749.5 486.4L750.1 487.0L750.8 487.4L751.4 487.8L752.0 488.0L752.6 488.2L753.2 488.3L753.8 488.3L754.4 488.3L755.0 488.3L755.6 488.3L756.2 488.2L756.8 488.2L757.4 488.0L758.0 487.9L758.6 487.7L759.3 487.4L759.9 487.1L760.5 486.8L761.1 486.4L761.7 486.0L762.3 485.5L762.9 485.1L763.5 484.5L764.1 484.0L764.7 483.4L765.3 482.9L765.9 482.3L766.5 481.7L767.1 481.1L767.8 480.6L768.4 480.1L769.0 479.5L769.6 479.0L770.2 478.6L770.8 478.2L771.4 477.8L772.0 477.4L772.6 477.1L773.2 476.9L773.8 476.7L774.4 476.6L775.0 476.5L775.6 476.4L776.3 476.5L776.9 476.6L777.5 476.7L778.1 476.9L778.7 477.1L779.3 477.4L779.9 477.8L780.5 478.2L781.1 478.6L781.7 479.0L782.3 479.5L782.9 480.1L783.5 480.6L784.1 481.1L784.8 481.7L785.4 482.3L786.0 482.9L786.6 483.4L787.2 484.0L787.8 484.5L788.4 485.1L789.0 485.5L789.6 486.0L790.2 486.4L790.8 486.8L791.4 487.1L792.0 487.4L792.6 487.7L793.3 487.9L793.9 488.0L794.5 488.2L795.1 488.2L795.7 488.3L796.3 488.3L796.9 488.3L797.5 488.3L798.1 488.3L798.7 488.3L799.3 488.2L799.9 488.1L800.5 488.0L801.1 487.9L801.8 487.8L802.4 487.6L803.0 487.4L803.6 487.1L804.2 486.8L804.8 486.6L805.4 486.2L806.0 485.9L806.6 485.6L807.2 485.2L807.8 484.9L808.4 484.5L809.0 484.1L809.6 483.8L810.3 483.4L810.9 483.1L811.5 482.8L812.1 482.5L812.7 482.2L813.3 481.9L813.9 481.6L814.5 481.4L815.1 481.2L815.7 481.1L816.3 481.0L816.9 480.9L817.5 480.8L818.1 480.8L818.8 480.8L819.4 480.9L820.0 481.0L820.6 481.1L821.2 481.2L821.8 481.4L822.4 481.6L823.0 481.9L823.6 482.2L824.2 482.5L824.8 482.8L825.4 483.1L826.0 483.4L826.6 483.8L827.3 484.1L827.9 484.5L828.5 484.9L829.1 485.2L829.7 485.6L830.3 485.9L830.9 486.2L831.5 486.6L832.1 486.8L832.7 487.1L833.3 487.4L833.9 487.6L834.5 487.8L835.1 487.9L835.8 488.0L836.4 488.1L837.0 488.2L837.6 488.3L838.2 488.3L838.8 488.3L839.4 488.3" fill="none" stroke="#357535" stroke-width="1"/>
<path d="M584.4 488.3L585.0 487.7L585.6 487.1L586.2 486.5L586.8 485.9L587.4 485.3L588.0 484.7L588.6 484.1L589.3 483.5L589.9 482.9L590.5 482.3L591.1 481.7L591.7 481.1L592.3 480.5L592.9 480.0L593.5 479.4L594.1 478.9L594.7 478.3L595.3 477.8L595.9 477.3L596.5 476.9L597.1 476.4L597.8 476.0L598.4 475.5L599.0 475.1L599.6 474.8L600.2 474.4L600.8 474.1L601.4 473.8L602.0 473.5L602.6 473.2L603.2 473.0L603.8 472.8L604.4 472.7L605.0 472.5L605.6 472.4L606.3 472.3L606.9 472.3L607.5 472.3L608.1 472.3L608.7 472.4L609.3 472.4L609.9 472.6L610.5 472.7L611.1 472.9L611.7 473.1L612.3 473.4L612.9 473.7L613.5 474.0L614.1 474.3L614.8 474.7L615.4 475.1L616.0 475.6L616.6 476.1L617.2 476.6L617.8 477.1L618.4 477.7L619.0 478.3L619.6 478.9L620.2 479.6L620.8 480.3L621.4 481.0L622.0 481.7L622.6 482.5L623.3 483.2L623.9 484.0L624.5 484.9L625.1 485.7L625.7 486.5L626.3 487.4L626.9 488.3L627.5 487.4L628.1 486.5L628.7 485.6L629.3 484.6L629.9 483.7L630.5 482.8L631.1 481.8L631.8 480.9L632.4 480.0L633.0 479.0L633.6 478.1L634.2 477.2L634.8 476.2L635.4 475.3L636.0 474.4L636.6 473.5L637.2 472.7L637.8 471.8L638.4 471.0L639.0 470.2L639.6 469.4L640.3 468.6L640.9 467.9L641.5 467.2L642.1 466.5L642.7 465.9L643.3 465.3L643.9 464.7L644.5 464.2L645.1 463.7L645.7 463.2L646.3 462.8L646.9 462.4L647.5 462.1L648.1 461.8L648.8 461.6L649.4 461.4L650.0 461.3L650.6 461.2L651.2 461.2L651.8 461.2L652.4 461.3L653.0 461.5L653.6 461.7L654.2 461.9L654.8 462.2L655.4 462.6L656.0 463.1L656.6 463.6L657.3 464.1L657.9 464.8L658.5 465.5L659.1 466.2L659.7 467.0L660.3 467.9L660.9 468.8L661.5 469.8L662.1 470.9L662.7 472.0L663.3 473.2L663.9 474.5L664.5 475.8L665.1 477.1L665.8 478.6L666.4 480.0L667.0 481.6L667.6 483.2L668.2 484.8L668.8 486.5L669.4 488.3L670.0 486.5L670.6 484.6L671.2 482.7L671.8 480.8L672.4 478.8L673.0 476.7L673.6 474.7L674.3 472.5L674.9 470.4L675.5 468.2L676.1 466.0L676.7 463.7L677.3 461.4L677.9 459.1L678.5 456.8L679.1 454.4L679.7 452.0L680.3 449.6L680.9 447.2L681.5 444.8L682.1 442.4L682.8 440.0L683.4 437.5L684.0 435.1L684.6 432.6L685.2 430.2L685.8 427.8L686.4 425.3L687.0 422.9L687.6 420.5L688.2 418.1L688.8 415.8L689.4 413.4L690.0 411.1L690.6 408.8L691.3 406.6L691.9 404.4L692.5 402.2L693.1 400.0L693.7 397.9L694.3 395.9L694.9 393.8L695.5 391.9L696.1 390.0L696.7 388.1L697.3 386.3L697.9 384.5L698.5 382.8L699.1 381.2L699.8 379.6L700.4 378.1L701.0 376.6L701.6 375.3L702.2 374.0L702.8 372.7L703.4 371.6L704.0 370.5L704.6 369.4L705.2 368.5L705.8 367.6L706.4 366.9L707.0 366.2L707.6 365.5L708.3 365.0L708.9 364.5L709.5 364.2L710.1 363.9L710.7 363.7L711.3 363.5L711.9 363.5L712.5 363.5L713.1 363.7L713.7 363.9L714.3 364.2L714.9 364.5L715.5 365.0L716.1 365.5L716.8 366.2L717.4 366.9L718.0 367.6L718.6 368.5L719.2 369.4L719.8 370.5L720.4 371.6L721.0 372.7L721.6 374.0L722.2 375.3L722.8 376.6L723.4 378.1L724.0 379.6L724.6 381.2L725.3 382.8L725.9 384.5L726.5 386.3L727.1 388.1L727.7 390.0L728.3 391.9L728.9 393.8L729.5 395.9L730.1 397.9L730.7 400.0L731.3 402.2L731.9 404.4L732.5 406.6L733.1 408.8L733.8 411.1L734.4 413.4L735.0 415.8L735.6 418.1L736.2 420.5L736.8 422.9L737.4 425.3L738.0 427.8L738.6 430.2L739.2 432.6L739.8 435.1L740.4 437.5L741.0 440.0L741.6 442.4L742.3 444.8L742.9 447.2L743.5 449.6L744.1 452.0L744.7 454.4L745.3 456.8L745.9 459.1L746.5 461.4L747.1 463.7L747.7 466.0L748.3 468.2L748.9 470.4L749.5 472.5L750.1 474.7L750.8 476.7L751.4 478.8L752.0 480.8L752.6 482.7L753.2 484.6L753.8 486.5L754.4 488.3L755.0 486.5L755.6 484.8L756.2 483.2L756.8 481.6L757.4 480.0L758.0 478.6L758.6 477.1L759.3 475.8L759.9 474.5L760.5 473.2L761.1 472.0L761.7 470.9L762.3 469.8L762.9 468.8L763.5 467.9L764.1 467.0L764.7 466.2L765.3 465.5L765.9 464.8L766.5 464.1L767.1 463.6L767.8 463.1L768.4 462.6L769.0 462.2L769.6 461.9L770.2 461.7L770.8 461.5L771.4 461.3L772.0 461.2L772.6 461.2L773.2 461.2L773.8 461.3L774.4 461.4L775.0 461.6L775.6 461.8L776.3 462.1L776.9 462.4L777.5 462.8L778.1 463.2L778.7 463.7L779.3 464.2L779.9 464.7L780.5 465.3L781.1 465.9L781.7 466.5L782.3 467.2L782.9 467.9L783.5 468.6L784.1 469.4L784.8 470.2L785.4 471.0L786.0 471.8L786.6 472.7L787.2 473.5L787.8 474.4L788.4 475.3L789.0 476.2L789.6 477.2L790.2 478.1L790.8 479.0L791.4 480.0L792.0 480.9L792.6 481.8L793.3 482.8L793.9 483.7L794.5 484.6L795.1 485.6L795.7 486.5L796.3 487.4L796.9 488.3L797.5 487.4L798.1 486.5L798.7 485.7L799.3 484.9L799.9 484.0L800.5 483.2L801.1 482.5L801.8 481.7L802.4 481.0L803.0 480.3L803.6 479.6L804.2 478.9L804.8 478.3L805.4 477.7L806.0 477.1L806.6 476.6L807.2 476.1L807.8 475.6L808.4 475.1L809.0 474.7L809.6 474.3L810.3 474.0L810.9 473.7L811.5 473.4L812.1 473.1L812.7 472.9L813.3 472.7L813.9 472.6L814.5 472.4L815.1 472.4L815.7 472.3L816.3 472.3L816.9 472.3L817.5 472.3L818.1 472.4L818.8 472.5L819.4 472.7L820.0 472.8L820.6 473.0L821.2 473.2L821.8 473.5L822.4 473.8L823.0 474.1L823.6 474.4L824.2 474.8L824.8 475.1L825.4 475.5L826.0 476.0L826.6 476.4L827.3 476.9L827.9 477.3L828.5 477.8L829.1 478.3L829.7 478.9L830.3 479.4L830.9 480.0L831.5 480.5L832.1 481.1L832.7 481.7L833.3 482.3L833.9 482.9L834.5 483.5L835.1 484.1L835.8 484.7L836.4 485.3L837.0 485.9L837.6 486.5L838.2 487.1L838.8 487.7L839.4 488.3" fill="none" stroke="#1515a5" stroke-width="1.7" stroke-linejoin="round"/>
<path d="M623.1 323.7L623.8 324.9L624.5 326.1L625.1 327.4L625.8 328.6L626.5 329.8L627.2 331.0L627.9 332.1L628.5 333.2L629.2 334.3L629.9 335.3L630.6 336.3L631.3 337.3L631.9 338.1L632.6 339.0L633.3 339.7L634.0 340.5L634.6 341.1L635.3 341.7L636.0 342.2L636.7 342.7L637.4 343.1L638.0 343.5L638.7 343.7L639.4 344.0L640.1 344.1L640.8 344.2L641.4 344.3L642.1 344.3L642.8 344.2L643.5 344.1L644.2 343.9L644.8 343.7L645.5 343.5L646.2 343.1L646.9 342.8L647.6 342.4L648.2 341.9L648.9 341.4L649.6 340.9L650.3 340.3L651.0 339.7L651.6 339.1L652.3 338.5L653.0 337.8L653.7 337.0L654.4 336.3L655.0 335.5L655.7 334.7L656.4 333.9L657.1 333.1L657.7 332.3L658.4 331.4L659.1 330.5L659.8 329.6L660.5 328.7L661.1 327.8L661.8 326.9L662.5 326.0L663.2 325.1L663.9 324.1L664.5 323.2L665.2 322.3L665.9 321.4L666.6 320.5L667.3 319.6L667.9 318.7L668.6 317.8L669.3 316.9L670.0 316.1L670.7 315.2L671.3 314.4L672.0 313.6L672.7 312.8L673.4 312.0L674.1 311.3L674.7 310.6L675.4 309.9L676.1 309.3L676.8 308.6L677.5 308.1L678.1 307.5L678.8 307.0L679.5 306.5L680.2 306.1L680.8 305.7L681.5 305.4L682.2 305.1L682.9 304.8L683.6 304.6L684.2 304.4L684.9 304.3L685.6 304.3L686.3 304.3L687.0 304.4L687.6 304.5L688.3 304.7L689.0 304.9L689.7 305.2L690.4 305.6L691.0 306.0L691.7 306.5L692.4 307.1L693.1 307.7L693.8 308.4L694.4 309.1L695.1 309.9L695.8 310.8L696.5 311.7L697.2 312.6L697.8 313.6L698.5 314.7L699.2 315.7L699.9 316.9L700.6 318.0L701.2 319.2L701.9 320.4L702.6 321.6L703.3 322.9L703.9 324.1L704.6 325.4L705.3 326.6L706.0 327.8L706.7 329.0L707.3 330.2L708.0 331.4L708.7 332.5L709.4 333.6L710.1 334.7L710.7 335.7L711.4 336.7L712.1 337.6L712.8 338.4L713.5 339.3L714.1 340.0L714.8 340.7L715.5 341.3L716.2 341.9L716.9 342.4L717.5 342.9L718.2 343.2L718.9 343.6L719.6 343.8L720.3 344.0L720.9 344.2L721.6 344.3L722.3 344.3L723.0 344.3L723.6 344.2L724.3 344.1L725.0 343.9L725.7 343.6L726.4 343.3L727.0 343.0L727.7 342.6L728.4 342.2L729.1 341.7L729.8 341.2L730.4 340.7L731.1 340.1L731.8 339.5L732.5 338.9L733.2 338.2L733.8 337.5L734.5 336.8L735.2 336.0L735.9 335.2L736.6 334.4L737.2 333.6L737.9 332.8L738.6 331.9L739.3 331.1L740.0 330.2L740.6 329.3L741.3 328.4L742.0 327.5L742.7 326.6L743.4 325.7L744.0 324.7L744.7 323.8L745.4 322.9L746.1 322.0L746.7 321.1L747.4 320.1L748.1 319.2L748.8 318.4L749.5 317.5L750.1 316.6L750.8 315.8L751.5 314.9L752.2 314.1L752.9 313.3L753.5 312.5L754.2 311.8L754.9 311.1L755.6 310.4L756.3 309.7L756.9 309.0L757.6 308.4L758.3 307.9L759.0 307.3L759.7 306.8L760.3 306.4L761.0 305.9L761.7 305.6L762.4 305.2L763.1 305.0L763.7 304.7L764.4 304.5L765.1 304.4L765.8 304.3L766.5 304.3L767.1 304.3L767.8 304.4L768.5 304.6L769.2 304.8L769.8 305.0L770.5 305.4L771.2 305.8L771.9 306.2L772.6 306.7L773.2 307.3L773.9 307.9L774.6 308.6L775.3 309.4L776.0 310.2L776.6 311.1L777.3 312.0L778.0 313.0L778.7 314.0L779.4 315.0L780.0 316.1L780.7 317.3L781.4 318.4L782.1 319.6L782.8 320.9L783.4 322.1L784.1 323.3L784.8 324.6L785.5 325.8L786.2 327.0L786.8 328.3L787.5 329.5L788.2 330.7L788.9 331.8L789.5 332.9L790.2 334.0L790.9 335.1L791.6 336.1L792.3 337.0L792.9 337.9L793.6 338.7L794.3 339.5L795.0 340.3L795.7 340.9L796.3 341.5L797.0 342.1L797.7 342.6L798.4 343.0L799.1 343.4L799.7 343.7L800.4 343.9L801.1 344.1L801.8 344.2L802.5 344.3L803.1 344.3L803.8 344.2L804.5 344.1L805.2 344.0L805.9 343.8L806.5 343.5L807.2 343.2L807.9 342.9L808.6 342.5L809.3 342.0L809.9 341.6L810.6 341.1L811.3 340.5L812.0 339.9L812.6 339.3L813.3 338.6L814.0 338.0L814.7 337.2L815.4 336.5L816.0 335.7L816.7 335.0L817.4 334.2L818.1 333.3L818.8 332.5L819.4 331.6L820.1 330.8L820.8 329.9L821.5 329.0L822.2 328.1L822.8 327.2L823.5 326.2L824.2 325.3L824.9 324.4L825.6 323.5L826.2 322.6L826.9 321.6L827.6 320.7L828.3 319.8L829.0 318.9L829.6 318.0L830.3 317.2L831.0 316.3L831.7 315.5L832.4 314.6L833.0 313.8L833.7 313.0L834.4 312.3L835.1 311.5L835.7 310.8L836.4 310.1L837.1 309.4L837.8 308.8L838.5 308.2L839.1 307.7L839.8 307.1L840.5 306.6L841.2 306.2L841.9 305.8L842.5 305.4L843.2 305.1L843.9 304.9L844.6 304.6L845.3 304.5L845.9 304.4L846.6 304.3L847.3 304.3L848.0 304.4L848.7 304.5L849.3 304.6L850.0 304.9L850.7 305.2L851.4 305.5L852.1 305.9L852.7 306.4L853.4 306.9L854.1 307.5L854.8 308.2L855.5 308.9L856.1 309.7L856.8 310.5L857.5 311.4L858.2 312.3L858.8 313.3L859.5 314.4L860.2 315.4L860.9 316.6L861.6 317.7L862.2 318.9L862.9 320.1L863.6 321.3L864.3 322.5L865.0 323.8L865.6 325.0L866.3 326.3L867.0 327.5" fill="none" stroke="#a83830" stroke-width="1"/>
<path d="M623.1 323.4L623.8 325.1L624.5 326.8L625.1 328.5L625.8 330.1L626.5 331.7L627.2 333.2L627.9 334.6L628.5 335.9L629.2 337.1L629.9 338.3L630.6 339.3L631.3 340.2L631.9 341.0L632.6 341.7L633.3 342.3L634.0 342.8L634.6 343.2L635.3 343.6L636.0 343.9L636.7 344.1L637.4 344.2L638.0 344.3L638.7 344.3L639.4 344.3L640.1 344.2L640.8 344.0L641.4 343.8L642.1 343.6L642.8 343.3L643.5 343.0L644.2 342.7L644.8 342.3L645.5 341.9L646.2 341.5L646.9 341.0L647.6 340.5L648.2 340.0L648.9 339.5L649.6 338.9L650.3 338.3L651.0 337.8L651.6 337.1L652.3 336.5L653.0 335.9L653.7 335.2L654.4 334.5L655.0 333.8L655.7 333.1L656.4 332.4L657.1 331.7L657.7 331.0L658.4 330.2L659.1 329.5L659.8 328.7L660.5 328.0L661.1 327.2L661.8 326.5L662.5 325.7L663.2 324.9L663.9 324.2L664.5 323.4L665.2 322.6L665.9 321.9L666.6 321.1L667.3 320.4L667.9 319.6L668.6 318.9L669.3 318.1L670.0 317.4L670.7 316.7L671.3 315.9L672.0 315.2L672.7 314.5L673.4 313.9L674.1 313.2L674.7 312.5L675.4 311.9L676.1 311.3L676.8 310.6L677.5 310.1L678.1 309.5L678.8 308.9L679.5 308.4L680.2 307.9L680.8 307.4L681.5 307.0L682.2 306.5L682.9 306.1L683.6 305.8L684.2 305.5L684.9 305.2L685.6 304.9L686.3 304.7L687.0 304.5L687.6 304.4L688.3 304.3L689.0 304.3L689.7 304.3L690.4 304.4L691.0 304.6L691.7 304.8L692.4 305.1L693.1 305.5L693.8 306.0L694.4 306.5L695.1 307.2L695.8 307.9L696.5 308.7L697.2 309.7L697.8 310.7L698.5 311.9L699.2 313.1L699.9 314.4L700.6 315.9L701.2 317.4L701.9 319.0L702.6 320.6L703.3 322.3L703.9 324.0L704.6 325.8L705.3 327.4L706.0 329.1L706.7 330.7L707.3 332.3L708.0 333.7L708.7 335.1L709.4 336.4L710.1 337.6L710.7 338.6L711.4 339.6L712.1 340.5L712.8 341.2L713.5 341.9L714.1 342.5L714.8 343.0L715.5 343.4L716.2 343.7L716.9 343.9L717.5 344.1L718.2 344.2L718.9 344.3L719.6 344.3L720.3 344.2L720.9 344.1L721.6 344.0L722.3 343.8L723.0 343.5L723.6 343.2L724.3 342.9L725.0 342.6L725.7 342.2L726.4 341.8L727.0 341.3L727.7 340.8L728.4 340.3L729.1 339.8L729.8 339.3L730.4 338.7L731.1 338.1L731.8 337.5L732.5 336.9L733.2 336.3L733.8 335.6L734.5 334.9L735.2 334.3L735.9 333.6L736.6 332.9L737.2 332.2L737.9 331.4L738.6 330.7L739.3 330.0L740.0 329.2L740.6 328.5L741.3 327.7L742.0 327.0L742.7 326.2L743.4 325.4L744.0 324.7L744.7 323.9L745.4 323.1L746.1 322.4L746.7 321.6L747.4 320.8L748.1 320.1L748.8 319.3L749.5 318.6L750.1 317.9L750.8 317.1L751.5 316.4L752.2 315.7L752.9 315.0L753.5 314.3L754.2 313.6L754.9 312.9L755.6 312.3L756.3 311.7L756.9 311.0L757.6 310.4L758.3 309.8L759.0 309.3L759.7 308.7L760.3 308.2L761.0 307.7L761.7 307.3L762.4 306.8L763.1 306.4L763.7 306.0L764.4 305.7L765.1 305.3L765.8 305.1L766.5 304.8L767.1 304.6L767.8 304.5L768.5 304.4L769.2 304.3L769.8 304.3L770.5 304.4L771.2 304.5L771.9 304.7L772.6 304.9L773.2 305.2L773.9 305.7L774.6 306.2L775.3 306.7L776.0 307.4L776.6 308.2L777.3 309.1L778.0 310.0L778.7 311.1L779.4 312.3L780.0 313.6L780.7 315.0L781.4 316.4L782.1 318.0L782.8 319.6L783.4 321.3L784.1 323.0L784.8 324.7L785.5 326.4L786.2 328.1L786.8 329.7L787.5 331.3L788.2 332.8L788.9 334.2L789.5 335.6L790.2 336.8L790.9 338.0L791.6 339.0L792.3 339.9L792.9 340.8L793.6 341.5L794.3 342.1L795.0 342.7L795.7 343.1L796.3 343.5L797.0 343.8L797.7 344.0L798.4 344.2L799.1 344.3L799.7 344.3L800.4 344.3L801.1 344.2L801.8 344.1L802.5 343.9L803.1 343.7L803.8 343.4L804.5 343.1L805.2 342.8L805.9 342.4L806.5 342.0L807.2 341.6L807.9 341.2L808.6 340.7L809.3 340.2L809.9 339.6L810.6 339.1L811.3 338.5L812.0 337.9L812.6 337.3L813.3 336.7L814.0 336.0L814.7 335.4L815.4 334.7L816.0 334.0L816.7 333.3L817.4 332.6L818.1 331.9L818.8 331.2L819.4 330.4L820.1 329.7L820.8 328.9L821.5 328.2L822.2 327.4L822.8 326.7L823.5 325.9L824.2 325.1L824.9 324.4L825.6 323.6L826.2 322.8L826.9 322.1L827.6 321.3L828.3 320.6L829.0 319.8L829.6 319.1L830.3 318.3L831.0 317.6L831.7 316.9L832.4 316.1L833.0 315.4L833.7 314.7L834.4 314.0L835.1 313.4L835.7 312.7L836.4 312.1L837.1 311.4L837.8 310.8L838.5 310.2L839.1 309.6L839.8 309.1L840.5 308.5L841.2 308.0L841.9 307.5L842.5 307.1L843.2 306.7L843.9 306.3L844.6 305.9L845.3 305.5L845.9 305.2L846.6 305.0L847.3 304.7L848.0 304.6L848.7 304.4L849.3 304.3L850.0 304.3L850.7 304.3L851.4 304.4L852.1 304.5L852.7 304.7L853.4 305.0L854.1 305.4L854.8 305.8L855.5 306.4L856.1 307.0L856.8 307.7L857.5 308.5L858.2 309.4L858.8 310.4L859.5 311.5L860.2 312.8L860.9 314.1L861.6 315.5L862.2 317.0L862.9 318.6L863.6 320.2L864.3 321.9L865.0 323.6L865.6 325.3L866.3 327.0L867.0 328.7" fill="none" stroke="#20209a" stroke-width="1.3"/>
<text transform="translate(551.3,424.9) rotate(-90)" text-anchor="middle" class="al" textLength="96.0" lengthAdjust="spacingAndGlyphs">Critical current</text>
<text x="646.0" y="524.0" class="xl" textLength="82.8" lengthAdjust="spacingAndGlyphs">Magnetic flux</text><text x="734.8" y="524.8" class="sy">(</text><text x="740.6" y="523.8" class="sy phi" textLength="10.3" lengthAdjust="spacingAndGlyphs">Φ</text><text x="753.6" y="532.2" class="sub">0</text><text x="759.8" y="524.8" class="sy">)</text>
</svg>
</body></html>
